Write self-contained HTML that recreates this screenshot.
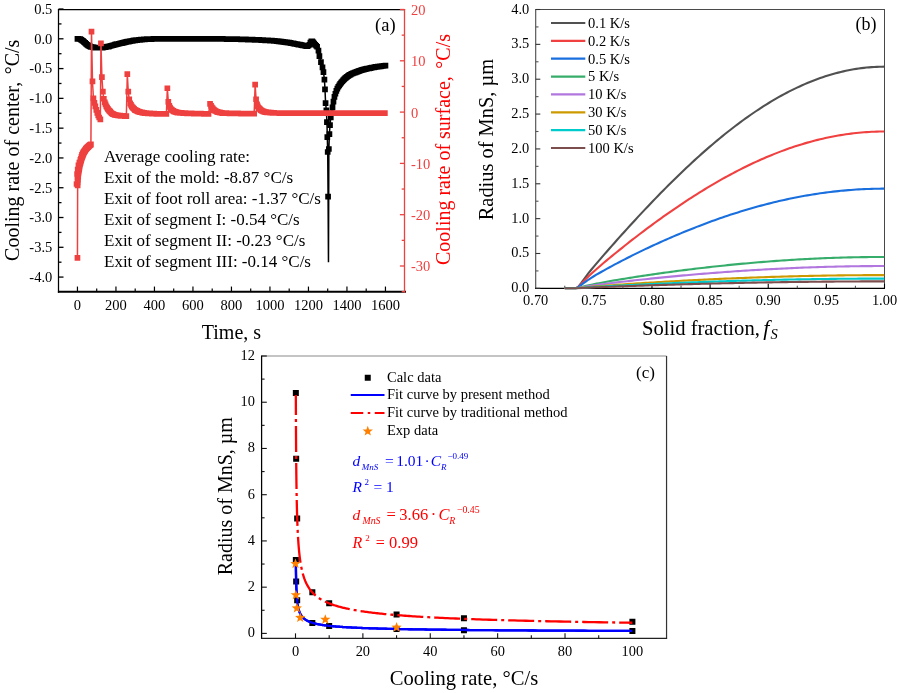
<!DOCTYPE html>
<html><head><meta charset="utf-8"><title>Figure</title>
<style>
html,body{margin:0;padding:0;background:#fff;}
svg{display:block;font-family:"Liberation Serif","Times New Roman",serif;}
</style></head><body>
<svg width="900" height="693" viewBox="0 0 900 693">
<rect width="900" height="693" fill="#fff"/>
<g id="panelA">
<path d="M77.45 38.8 L78.41 38.9 L79.38 39 L80.34 39.1 L81.3 39.79 L82.26 40.49 L83.23 41.18 L84.19 42.08 L85.15 42.97 L86.11 43.86 L87.08 44.76 L88.04 45.28 L89 45.8 L89.96 46.32 L90.92 46.84 L91.89 47.02 L92.85 47.2 L93.81 47.38 L94.78 47.56 L95.74 47.56 L96.7 47.56 L97.66 47.56 L98.62 47.56 L99.59 47.56 L100.55 47.56 L101.51 47.56 L102.47 47.56 L103.44 47.39 L104.4 47.22 L105.36 47.05 L106.33 46.88 L107.29 46.71 L108.25 46.54 L109.21 46.28 L110.18 46.02 L111.14 45.76 L112.1 45.5 L113.06 45.24 L114.03 44.98 L114.99 44.72 L115.95 44.46 L116.91 44.22 L117.88 43.98 L118.84 43.74 L119.8 43.51 L120.76 43.27 L121.72 43.03 L122.69 42.79 L123.65 42.55 L124.61 42.31 L125.58 42.08 L126.54 41.9 L127.5 41.72 L128.46 41.54 L129.43 41.36 L130.39 41.18 L131.35 41 L132.31 40.83 L133.28 40.65 L134.24 40.47 L135.2 40.29 L136.16 40.19 L137.12 40.09 L138.09 39.99 L139.05 39.88 L140.01 39.78 L140.97 39.68 L141.94 39.58 L142.9 39.48 L143.86 39.38 L144.82 39.28 L145.79 39.24 L146.75 39.21 L147.71 39.17 L148.68 39.14 L149.64 39.11 L150.6 39.07 L151.56 39.04 L152.53 39 L153.49 38.97 L154.45 38.94 L155.41 38.9 L156.38 38.87 L157.34 38.83 L158.3 38.8 L159.26 38.8 L160.23 38.8 L161.19 38.8 L162.15 38.8 L163.11 38.8 L164.07 38.8 L165.04 38.8 L166 38.8 L166.96 38.8 L167.93 38.8 L168.89 38.8 L169.85 38.8 L170.81 38.8 L171.78 38.8 L172.74 38.8 L173.7 38.8 L174.66 38.8 L175.62 38.8 L176.59 38.8 L177.55 38.8 L178.51 38.8 L179.48 38.8 L180.44 38.8 L181.4 38.8 L182.36 38.8 L183.32 38.8 L184.29 38.8 L185.25 38.8 L186.21 38.8 L187.18 38.8 L188.14 38.8 L189.1 38.8 L190.06 38.8 L191.03 38.8 L191.99 38.8 L192.95 38.8 L193.91 38.8 L194.88 38.8 L195.84 38.8 L196.8 38.8 L197.76 38.8 L198.73 38.8 L199.69 38.8 L200.65 38.8 L201.61 38.8 L202.57 38.8 L203.54 38.8 L204.5 38.8 L205.46 38.8 L206.43 38.8 L207.39 38.8 L208.35 38.8 L209.31 38.8 L210.27 38.8 L211.24 38.8 L212.2 38.8 L213.16 38.82 L214.12 38.83 L215.09 38.85 L216.05 38.86 L217.01 38.88 L217.98 38.9 L218.94 38.91 L219.9 38.93 L220.86 38.94 L221.82 38.96 L222.79 38.97 L223.75 38.99 L224.71 39.01 L225.68 39.02 L226.64 39.04 L227.6 39.05 L228.56 39.07 L229.52 39.09 L230.49 39.1 L231.45 39.12 L232.41 39.13 L233.38 39.15 L234.34 39.17 L235.3 39.18 L236.26 39.2 L237.23 39.21 L238.19 39.23 L239.15 39.24 L240.11 39.26 L241.07 39.28 L242.04 39.31 L243 39.35 L243.96 39.38 L244.93 39.42 L245.89 39.46 L246.85 39.49 L247.81 39.53 L248.77 39.56 L249.74 39.6 L250.7 39.63 L251.66 39.67 L252.62 39.71 L253.59 39.74 L254.55 39.78 L255.51 39.81 L256.48 39.85 L257.44 39.88 L258.4 39.92 L259.36 39.96 L260.32 39.99 L261.29 40.05 L262.25 40.11 L263.21 40.17 L264.18 40.23 L265.14 40.29 L266.1 40.34 L267.06 40.4 L268.02 40.46 L268.99 40.52 L269.95 40.58 L270.91 40.64 L271.88 40.7 L272.84 40.76 L273.8 40.81 L274.76 40.87 L275.73 40.98 L276.69 41.1 L277.65 41.22 L278.61 41.34 L279.57 41.46 L280.54 41.59 L281.5 41.71 L282.46 41.83 L283.43 41.95 L284.39 42.07 L285.35 42.19 L286.31 42.31 L287.27 42.43 L288.24 42.55 L289.2 42.67 L290.16 42.86 L291.12 43.04 L292.09 43.23 L293.05 43.42 L294.01 43.6 L294.98 43.79 L295.94 43.98 L296.9 44.16 L297.86 44.35 L298.82 44.53 L299.79 44.72 L300.75 44.91 L301.71 45.1 L302.68 45.29 L303.64 45.48 L304.6 45.67 L305.56 45.86 L306.52 46.06 L307.49 46.25 L308.45 45.5 L309.41 44.76 L310.38 42.63 L311.34 41.24 L312.3 41.44 L313.26 42.37 L314.23 43.57 L315.19 44.76 L316.15 45.75 L317.11 46.74 L318.46 50.71 L319.42 56.08 L320.96 62.03 L322.5 67.39 L323.46 72.16 L324.43 79.61 L325 89.43 L325.58 103.14 L326.35 110.28 L326.93 122.2 L327.31 137.09 L327.7 151.98 L328.08 196.66 L328.47 262.19 L328.86 149 L329.43 134.11 L330.01 125.18 L330.78 117.43 L331.55 113.26 L332.51 107.31 L333.47 101.6 L334.44 96.92 L335.4 93.74 L336.36 90.92 L337.32 88.69 L338.29 86.75 L339.25 85.3 L340.21 83.97 L341.18 82.7 L342.14 81.51 L343.1 80.4 L344.06 79.41 L345.02 78.41 L345.99 77.63 L346.95 76.85 L347.91 76.06 L348.88 75.33 L349.84 74.8 L350.8 74.28 L351.76 73.75 L352.72 73.36 L353.69 73.01 L354.65 72.65 L355.61 72.28 L356.57 71.92 L357.54 71.55 L358.5 71.18 L359.46 70.82 L360.43 70.5 L361.39 70.21 L362.35 69.93 L363.31 69.64 L364.27 69.35 L365.24 69.1 L366.2 68.9 L367.16 68.7 L368.12 68.5 L369.09 68.3 L370.05 68.1 L371.01 67.9 L371.97 67.7 L372.94 67.5 L373.9 67.3 L374.86 67.1 L375.82 66.96 L376.79 66.82 L377.75 66.69 L378.71 66.55 L379.68 66.42 L380.64 66.28 L381.6 66.15 L382.56 66.01 L383.52 65.88 L384.49 65.74 L385.45 65.61" fill="none" stroke="#000" stroke-width="1.5" />
<path d="M74.6 35.95h5.7v5.7h-5.7zM75.56 36.05h5.7v5.7h-5.7zM76.53 36.15h5.7v5.7h-5.7zM77.49 36.25h5.7v5.7h-5.7zM78.45 36.94h5.7v5.7h-5.7zM79.41 37.64h5.7v5.7h-5.7zM80.38 38.33h5.7v5.7h-5.7zM81.34 39.23h5.7v5.7h-5.7zM82.3 40.12h5.7v5.7h-5.7zM83.26 41.01h5.7v5.7h-5.7zM84.23 41.91h5.7v5.7h-5.7zM85.19 42.43h5.7v5.7h-5.7zM86.15 42.95h5.7v5.7h-5.7zM87.11 43.47h5.7v5.7h-5.7zM88.08 43.99h5.7v5.7h-5.7zM89.04 44.17h5.7v5.7h-5.7zM90 44.35h5.7v5.7h-5.7zM90.96 44.53h5.7v5.7h-5.7zM91.93 44.71h5.7v5.7h-5.7zM92.89 44.71h5.7v5.7h-5.7zM93.85 44.71h5.7v5.7h-5.7zM94.81 44.71h5.7v5.7h-5.7zM95.78 44.71h5.7v5.7h-5.7zM96.74 44.71h5.7v5.7h-5.7zM97.7 44.71h5.7v5.7h-5.7zM98.66 44.71h5.7v5.7h-5.7zM99.62 44.71h5.7v5.7h-5.7zM100.59 44.54h5.7v5.7h-5.7zM101.55 44.37h5.7v5.7h-5.7zM102.51 44.2h5.7v5.7h-5.7zM103.48 44.03h5.7v5.7h-5.7zM104.44 43.86h5.7v5.7h-5.7zM105.4 43.69h5.7v5.7h-5.7zM106.36 43.43h5.7v5.7h-5.7zM107.33 43.17h5.7v5.7h-5.7zM108.29 42.91h5.7v5.7h-5.7zM109.25 42.65h5.7v5.7h-5.7zM110.21 42.39h5.7v5.7h-5.7zM111.18 42.13h5.7v5.7h-5.7zM112.14 41.87h5.7v5.7h-5.7zM113.1 41.61h5.7v5.7h-5.7zM114.06 41.37h5.7v5.7h-5.7zM115.03 41.13h5.7v5.7h-5.7zM115.99 40.89h5.7v5.7h-5.7zM116.95 40.66h5.7v5.7h-5.7zM117.91 40.42h5.7v5.7h-5.7zM118.88 40.18h5.7v5.7h-5.7zM119.84 39.94h5.7v5.7h-5.7zM120.8 39.7h5.7v5.7h-5.7zM121.76 39.46h5.7v5.7h-5.7zM122.73 39.23h5.7v5.7h-5.7zM123.69 39.05h5.7v5.7h-5.7zM124.65 38.87h5.7v5.7h-5.7zM125.61 38.69h5.7v5.7h-5.7zM126.58 38.51h5.7v5.7h-5.7zM127.54 38.33h5.7v5.7h-5.7zM128.5 38.15h5.7v5.7h-5.7zM129.46 37.98h5.7v5.7h-5.7zM130.43 37.8h5.7v5.7h-5.7zM131.39 37.62h5.7v5.7h-5.7zM132.35 37.44h5.7v5.7h-5.7zM133.31 37.34h5.7v5.7h-5.7zM134.28 37.24h5.7v5.7h-5.7zM135.24 37.14h5.7v5.7h-5.7zM136.2 37.03h5.7v5.7h-5.7zM137.16 36.93h5.7v5.7h-5.7zM138.12 36.83h5.7v5.7h-5.7zM139.09 36.73h5.7v5.7h-5.7zM140.05 36.63h5.7v5.7h-5.7zM141.01 36.53h5.7v5.7h-5.7zM141.97 36.43h5.7v5.7h-5.7zM142.94 36.39h5.7v5.7h-5.7zM143.9 36.36h5.7v5.7h-5.7zM144.86 36.32h5.7v5.7h-5.7zM145.83 36.29h5.7v5.7h-5.7zM146.79 36.26h5.7v5.7h-5.7zM147.75 36.22h5.7v5.7h-5.7zM148.71 36.19h5.7v5.7h-5.7zM149.68 36.15h5.7v5.7h-5.7zM150.64 36.12h5.7v5.7h-5.7zM151.6 36.09h5.7v5.7h-5.7zM152.56 36.05h5.7v5.7h-5.7zM153.53 36.02h5.7v5.7h-5.7zM154.49 35.98h5.7v5.7h-5.7zM155.45 35.95h5.7v5.7h-5.7zM156.41 35.95h5.7v5.7h-5.7zM157.38 35.95h5.7v5.7h-5.7zM158.34 35.95h5.7v5.7h-5.7zM159.3 35.95h5.7v5.7h-5.7zM160.26 35.95h5.7v5.7h-5.7zM161.22 35.95h5.7v5.7h-5.7zM162.19 35.95h5.7v5.7h-5.7zM163.15 35.95h5.7v5.7h-5.7zM164.11 35.95h5.7v5.7h-5.7zM165.08 35.95h5.7v5.7h-5.7zM166.04 35.95h5.7v5.7h-5.7zM167 35.95h5.7v5.7h-5.7zM167.96 35.95h5.7v5.7h-5.7zM168.93 35.95h5.7v5.7h-5.7zM169.89 35.95h5.7v5.7h-5.7zM170.85 35.95h5.7v5.7h-5.7zM171.81 35.95h5.7v5.7h-5.7zM172.78 35.95h5.7v5.7h-5.7zM173.74 35.95h5.7v5.7h-5.7zM174.7 35.95h5.7v5.7h-5.7zM175.66 35.95h5.7v5.7h-5.7zM176.63 35.95h5.7v5.7h-5.7zM177.59 35.95h5.7v5.7h-5.7zM178.55 35.95h5.7v5.7h-5.7zM179.51 35.95h5.7v5.7h-5.7zM180.47 35.95h5.7v5.7h-5.7zM181.44 35.95h5.7v5.7h-5.7zM182.4 35.95h5.7v5.7h-5.7zM183.36 35.95h5.7v5.7h-5.7zM184.33 35.95h5.7v5.7h-5.7zM185.29 35.95h5.7v5.7h-5.7zM186.25 35.95h5.7v5.7h-5.7zM187.21 35.95h5.7v5.7h-5.7zM188.18 35.95h5.7v5.7h-5.7zM189.14 35.95h5.7v5.7h-5.7zM190.1 35.95h5.7v5.7h-5.7zM191.06 35.95h5.7v5.7h-5.7zM192.03 35.95h5.7v5.7h-5.7zM192.99 35.95h5.7v5.7h-5.7zM193.95 35.95h5.7v5.7h-5.7zM194.91 35.95h5.7v5.7h-5.7zM195.88 35.95h5.7v5.7h-5.7zM196.84 35.95h5.7v5.7h-5.7zM197.8 35.95h5.7v5.7h-5.7zM198.76 35.95h5.7v5.7h-5.7zM199.72 35.95h5.7v5.7h-5.7zM200.69 35.95h5.7v5.7h-5.7zM201.65 35.95h5.7v5.7h-5.7zM202.61 35.95h5.7v5.7h-5.7zM203.58 35.95h5.7v5.7h-5.7zM204.54 35.95h5.7v5.7h-5.7zM205.5 35.95h5.7v5.7h-5.7zM206.46 35.95h5.7v5.7h-5.7zM207.42 35.95h5.7v5.7h-5.7zM208.39 35.95h5.7v5.7h-5.7zM209.35 35.95h5.7v5.7h-5.7zM210.31 35.97h5.7v5.7h-5.7zM211.28 35.98h5.7v5.7h-5.7zM212.24 36h5.7v5.7h-5.7zM213.2 36.01h5.7v5.7h-5.7zM214.16 36.03h5.7v5.7h-5.7zM215.13 36.05h5.7v5.7h-5.7zM216.09 36.06h5.7v5.7h-5.7zM217.05 36.08h5.7v5.7h-5.7zM218.01 36.09h5.7v5.7h-5.7zM218.97 36.11h5.7v5.7h-5.7zM219.94 36.12h5.7v5.7h-5.7zM220.9 36.14h5.7v5.7h-5.7zM221.86 36.16h5.7v5.7h-5.7zM222.83 36.17h5.7v5.7h-5.7zM223.79 36.19h5.7v5.7h-5.7zM224.75 36.2h5.7v5.7h-5.7zM225.71 36.22h5.7v5.7h-5.7zM226.67 36.24h5.7v5.7h-5.7zM227.64 36.25h5.7v5.7h-5.7zM228.6 36.27h5.7v5.7h-5.7zM229.56 36.28h5.7v5.7h-5.7zM230.53 36.3h5.7v5.7h-5.7zM231.49 36.32h5.7v5.7h-5.7zM232.45 36.33h5.7v5.7h-5.7zM233.41 36.35h5.7v5.7h-5.7zM234.38 36.36h5.7v5.7h-5.7zM235.34 36.38h5.7v5.7h-5.7zM236.3 36.39h5.7v5.7h-5.7zM237.26 36.41h5.7v5.7h-5.7zM238.22 36.43h5.7v5.7h-5.7zM239.19 36.46h5.7v5.7h-5.7zM240.15 36.5h5.7v5.7h-5.7zM241.11 36.53h5.7v5.7h-5.7zM242.08 36.57h5.7v5.7h-5.7zM243.04 36.61h5.7v5.7h-5.7zM244 36.64h5.7v5.7h-5.7zM244.96 36.68h5.7v5.7h-5.7zM245.92 36.71h5.7v5.7h-5.7zM246.89 36.75h5.7v5.7h-5.7zM247.85 36.78h5.7v5.7h-5.7zM248.81 36.82h5.7v5.7h-5.7zM249.78 36.86h5.7v5.7h-5.7zM250.74 36.89h5.7v5.7h-5.7zM251.7 36.93h5.7v5.7h-5.7zM252.66 36.96h5.7v5.7h-5.7zM253.63 37h5.7v5.7h-5.7zM254.59 37.03h5.7v5.7h-5.7zM255.55 37.07h5.7v5.7h-5.7zM256.51 37.11h5.7v5.7h-5.7zM257.47 37.14h5.7v5.7h-5.7zM258.44 37.2h5.7v5.7h-5.7zM259.4 37.26h5.7v5.7h-5.7zM260.36 37.32h5.7v5.7h-5.7zM261.32 37.38h5.7v5.7h-5.7zM262.29 37.44h5.7v5.7h-5.7zM263.25 37.49h5.7v5.7h-5.7zM264.21 37.55h5.7v5.7h-5.7zM265.17 37.61h5.7v5.7h-5.7zM266.14 37.67h5.7v5.7h-5.7zM267.1 37.73h5.7v5.7h-5.7zM268.06 37.79h5.7v5.7h-5.7zM269.02 37.85h5.7v5.7h-5.7zM269.99 37.91h5.7v5.7h-5.7zM270.95 37.96h5.7v5.7h-5.7zM271.91 38.02h5.7v5.7h-5.7zM272.88 38.13h5.7v5.7h-5.7zM273.84 38.25h5.7v5.7h-5.7zM274.8 38.37h5.7v5.7h-5.7zM275.76 38.49h5.7v5.7h-5.7zM276.72 38.61h5.7v5.7h-5.7zM277.69 38.74h5.7v5.7h-5.7zM278.65 38.86h5.7v5.7h-5.7zM279.61 38.98h5.7v5.7h-5.7zM280.57 39.1h5.7v5.7h-5.7zM281.54 39.22h5.7v5.7h-5.7zM282.5 39.34h5.7v5.7h-5.7zM283.46 39.46h5.7v5.7h-5.7zM284.42 39.58h5.7v5.7h-5.7zM285.39 39.7h5.7v5.7h-5.7zM286.35 39.82h5.7v5.7h-5.7zM287.31 40.01h5.7v5.7h-5.7zM288.27 40.19h5.7v5.7h-5.7zM289.24 40.38h5.7v5.7h-5.7zM290.2 40.57h5.7v5.7h-5.7zM291.16 40.75h5.7v5.7h-5.7zM292.12 40.94h5.7v5.7h-5.7zM293.09 41.13h5.7v5.7h-5.7zM294.05 41.31h5.7v5.7h-5.7zM295.01 41.5h5.7v5.7h-5.7zM295.97 41.68h5.7v5.7h-5.7zM296.94 41.87h5.7v5.7h-5.7zM297.9 42.06h5.7v5.7h-5.7zM298.86 42.25h5.7v5.7h-5.7zM299.82 42.44h5.7v5.7h-5.7zM300.79 42.63h5.7v5.7h-5.7zM301.75 42.82h5.7v5.7h-5.7zM302.71 43.01h5.7v5.7h-5.7zM303.67 43.21h5.7v5.7h-5.7zM304.64 43.4h5.7v5.7h-5.7zM305.6 42.65h5.7v5.7h-5.7zM306.56 41.91h5.7v5.7h-5.7zM307.52 39.78h5.7v5.7h-5.7zM308.49 38.39h5.7v5.7h-5.7zM309.45 38.59h5.7v5.7h-5.7zM310.41 39.52h5.7v5.7h-5.7zM311.38 40.72h5.7v5.7h-5.7zM312.34 41.91h5.7v5.7h-5.7zM313.3 42.9h5.7v5.7h-5.7zM314.26 43.89h5.7v5.7h-5.7zM315.61 47.86h5.7v5.7h-5.7zM316.57 53.23h5.7v5.7h-5.7zM318.11 59.18h5.7v5.7h-5.7zM319.65 64.54h5.7v5.7h-5.7zM320.61 69.31h5.7v5.7h-5.7zM321.58 76.76h5.7v5.7h-5.7zM322.15 86.58h5.7v5.7h-5.7zM322.73 100.29h5.7v5.7h-5.7zM323.5 107.43h5.7v5.7h-5.7zM324.08 119.35h5.7v5.7h-5.7zM324.46 134.24h5.7v5.7h-5.7zM324.85 149.13h5.7v5.7h-5.7zM325.23 193.81h5.7v5.7h-5.7zM326 146.15h5.7v5.7h-5.7zM326.58 131.26h5.7v5.7h-5.7zM327.16 122.33h5.7v5.7h-5.7zM327.93 114.58h5.7v5.7h-5.7zM328.7 110.41h5.7v5.7h-5.7zM329.66 104.46h5.7v5.7h-5.7zM330.62 98.75h5.7v5.7h-5.7zM331.59 94.07h5.7v5.7h-5.7zM332.55 90.89h5.7v5.7h-5.7zM333.51 88.07h5.7v5.7h-5.7zM334.47 85.84h5.7v5.7h-5.7zM335.44 83.9h5.7v5.7h-5.7zM336.4 82.45h5.7v5.7h-5.7zM337.36 81.12h5.7v5.7h-5.7zM338.32 79.85h5.7v5.7h-5.7zM339.29 78.66h5.7v5.7h-5.7zM340.25 77.55h5.7v5.7h-5.7zM341.21 76.56h5.7v5.7h-5.7zM342.17 75.56h5.7v5.7h-5.7zM343.14 74.78h5.7v5.7h-5.7zM344.1 74h5.7v5.7h-5.7zM345.06 73.21h5.7v5.7h-5.7zM346.02 72.48h5.7v5.7h-5.7zM346.99 71.95h5.7v5.7h-5.7zM347.95 71.43h5.7v5.7h-5.7zM348.91 70.9h5.7v5.7h-5.7zM349.87 70.51h5.7v5.7h-5.7zM350.84 70.16h5.7v5.7h-5.7zM351.8 69.8h5.7v5.7h-5.7zM352.76 69.43h5.7v5.7h-5.7zM353.72 69.07h5.7v5.7h-5.7zM354.69 68.7h5.7v5.7h-5.7zM355.65 68.33h5.7v5.7h-5.7zM356.61 67.97h5.7v5.7h-5.7zM357.57 67.65h5.7v5.7h-5.7zM358.54 67.36h5.7v5.7h-5.7zM359.5 67.08h5.7v5.7h-5.7zM360.46 66.79h5.7v5.7h-5.7zM361.42 66.5h5.7v5.7h-5.7zM362.39 66.25h5.7v5.7h-5.7zM363.35 66.05h5.7v5.7h-5.7zM364.31 65.85h5.7v5.7h-5.7zM365.27 65.65h5.7v5.7h-5.7zM366.24 65.45h5.7v5.7h-5.7zM367.2 65.25h5.7v5.7h-5.7zM368.16 65.05h5.7v5.7h-5.7zM369.12 64.85h5.7v5.7h-5.7zM370.09 64.65h5.7v5.7h-5.7zM371.05 64.45h5.7v5.7h-5.7zM372.01 64.25h5.7v5.7h-5.7zM372.97 64.11h5.7v5.7h-5.7zM373.94 63.97h5.7v5.7h-5.7zM374.9 63.84h5.7v5.7h-5.7zM375.86 63.7h5.7v5.7h-5.7zM376.82 63.57h5.7v5.7h-5.7zM377.79 63.43h5.7v5.7h-5.7zM378.75 63.3h5.7v5.7h-5.7zM379.71 63.16h5.7v5.7h-5.7zM380.67 63.03h5.7v5.7h-5.7zM381.64 62.89h5.7v5.7h-5.7zM382.6 62.76h5.7v5.7h-5.7z" fill="#000"/>
<path d="M77.45 257.79 L77.64 185.46 L77.84 182.51 L78.03 179.56 L78.22 176.61 L78.41 173.66 L78.61 172.51 L78.8 171.35 L78.99 170.2 L79.18 169.04 L79.38 167.89 L79.57 166.73 L79.76 165.58 L79.95 164.43 L80.14 163.74 L80.34 163.06 L80.53 162.37 L80.72 161.69 L80.92 161.01 L81.11 160.32 L81.3 159.64 L81.49 158.95 L81.69 158.27 L81.88 157.76 L82.07 157.24 L82.26 156.73 L82.45 156.22 L82.65 155.7 L82.84 155.19 L83.03 154.68 L83.23 154.17 L83.42 153.65 L83.61 153.14 L83.8 152.63 L84 152.11 L84.19 151.82 L84.38 151.53 L84.57 151.23 L84.77 150.94 L84.96 150.65 L85.15 150.36 L85.34 150.06 L85.53 149.77 L85.73 149.48 L85.92 149.18 L86.11 148.89 L86.31 148.6 L86.5 148.3 L86.69 148.01 L86.88 147.84 L87.08 147.67 L87.27 147.5 L87.46 147.33 L87.65 147.16 L87.84 146.98 L88.04 146.81 L88.23 146.64 L88.42 146.47 L88.62 146.3 L88.81 146.13 L89 145.96 L89.19 145.79 L89.39 145.62 L89.58 145.44 L89.77 145.27 L89.96 145.1 L90.16 144.93 L90.35 144.8 L90.54 144.68 L90.73 144.55 L90.92 144.42 L91.5 31.56 L92.47 81.32 L93.43 98.25 L94.39 102.87 L95.35 106.46 L96.31 109.79 L97.28 112.87 L98.24 115.43 L99.2 117.49 L100.36 119.28 L100.94 43.36 L101.9 77.22 L102.86 91.58 L103.82 98.76 L104.78 102.35 L105.56 104.41 L106.33 106.46 L107.09 107.69 L107.87 108.92 L108.64 109.98 L109.41 110.88 L110.18 111.72 L110.94 112.48 L111.72 113.25 L112.48 113.81 L113.25 114.15 L114.03 114.49 L114.8 114.84 L115.56 115.01 L116.34 115.14 L117.11 115.26 L117.88 115.38 L118.65 115.51 L119.42 115.63 L120.19 115.72 L120.96 115.78 L121.72 115.84 L122.5 115.9 L123.27 115.95 L124.03 116.01 L124.81 116.07 L125.58 116.13 L126.34 116.19 L127.31 74.14 L128.27 91.58 L129.23 99.27 L130.19 103.38 L130.97 104.92 L131.74 106.46 L132.5 107.29 L133.28 108.12 L134.05 108.96 L134.81 109.79 L135.59 110.16 L136.36 110.54 L137.12 110.91 L137.9 111.28 L138.67 111.66 L139.44 111.93 L140.21 112.1 L140.97 112.27 L141.75 112.44 L142.51 112.61 L143.28 112.78 L144.06 112.95 L144.82 113.13 L145.59 113.18 L146.37 113.22 L147.13 113.27 L147.91 113.32 L148.68 113.37 L149.44 113.42 L150.22 113.47 L150.99 113.52 L151.75 113.57 L152.53 113.62 L153.3 113.67 L154.06 113.72 L154.84 113.75 L155.61 113.77 L156.38 113.78 L157.14 113.8 L157.92 113.81 L158.69 113.83 L159.45 113.85 L160.23 113.86 L161 113.88 L161.76 113.89 L162.53 113.91 L163.31 113.93 L164.07 113.94 L164.84 113.96 L165.62 113.97 L166.38 113.99 L167.35 88.25 L168.31 101.84 L169.27 105.94 L170.04 107.48 L170.81 109.02 L171.58 109.64 L172.35 110.25 L173.12 110.87 L173.89 111.39 L174.66 111.65 L175.43 111.91 L176.2 112.16 L176.97 112.42 L177.74 112.63 L178.51 112.69 L179.28 112.74 L180.05 112.8 L180.82 112.86 L181.59 112.92 L182.36 112.98 L183.13 113.04 L183.9 113.1 L184.67 113.16 L185.44 113.21 L186.21 113.25 L186.98 113.28 L187.75 113.31 L188.52 113.33 L189.29 113.36 L190.06 113.39 L190.83 113.42 L191.6 113.45 L192.37 113.48 L193.14 113.5 L193.91 113.53 L194.68 113.56 L195.45 113.59 L196.22 113.62 L196.99 113.64 L197.76 113.66 L198.53 113.68 L199.3 113.69 L200.07 113.71 L200.84 113.72 L201.61 113.74 L202.38 113.76 L203.15 113.77 L203.92 113.79 L204.69 113.8 L205.46 113.82 L206.23 113.84 L207 113.85 L207.77 113.87 L208.54 113.88 L210.08 103.89 L211.05 105.94 L211.81 107.31 L212.58 108.41 L213.36 109.23 L214.12 110.05 L214.89 110.53 L215.67 111.01 L216.44 111.48 L217.2 111.89 L217.98 112.06 L218.75 112.23 L219.51 112.4 L220.29 112.57 L221.06 112.74 L221.82 112.91 L222.6 113.08 L223.37 113.14 L224.13 113.16 L224.91 113.17 L225.68 113.19 L226.44 113.21 L227.21 113.23 L227.99 113.24 L228.75 113.26 L229.52 113.28 L230.3 113.29 L231.06 113.31 L231.83 113.33 L232.61 113.35 L233.38 113.36 L234.14 113.38 L234.92 113.4 L235.69 113.42 L236.45 113.43 L237.23 113.45 L238 113.47 L238.76 113.48 L239.54 113.5 L240.31 113.52 L241.07 113.54 L241.85 113.54 L242.62 113.55 L243.38 113.55 L244.16 113.56 L244.93 113.57 L245.69 113.57 L246.46 113.58 L247.24 113.58 L248 113.59 L248.77 113.6 L249.55 113.6 L250.31 113.61 L251.08 113.61 L251.86 113.62 L252.62 113.63 L253.39 113.63 L254.17 113.64 L255.13 84.65 L256.09 99.27 L257.05 104.41 L257.82 106.31 L258.59 107.93 L259.36 108.68 L260.13 109.43 L260.9 110.18 L261.67 110.71 L262.44 111.02 L263.21 111.33 L263.98 111.64 L264.75 111.95 L265.52 112.14 L266.29 112.21 L267.06 112.29 L267.83 112.36 L268.6 112.43 L269.37 112.51 L270.14 112.58 L270.91 112.66 L271.68 112.73 L272.45 112.81 L273.22 112.88 L273.99 112.95 L274.76 112.98 L275.53 112.99 L276.3 112.99 L277.07 113 L277.84 113.01 L278.61 113.02 L279.38 113.03 L280.15 113.03 L280.92 113.04 L281.69 113.05 L282.46 113.06 L283.23 113.06 L284 113.07 L284.77 113.08 L285.54 113.09 L286.31 113.1 L287.08 113.1 L287.85 113.11 L288.62 113.12 L289.39 113.13 L290.16 113.13 L290.93 113.13 L291.7 113.13 L292.47 113.13 L293.24 113.13 L294.01 113.13 L294.78 113.13 L295.55 113.13 L296.32 113.13 L297.09 113.13 L297.86 113.13 L298.63 113.13 L299.4 113.13 L300.17 113.13 L300.94 113.13 L301.71 113.13 L302.48 113.13 L303.25 113.13 L304.02 113.13 L304.79 113.13 L305.56 113.13 L306.33 113.13 L307.1 113.13 L307.87 113.13 L308.64 113.13 L309.41 113.13 L310.18 113.13 L310.95 113.13 L311.72 113.13 L312.49 113.13 L313.26 113.13 L314.03 113.13 L314.8 113.13 L315.57 113.13 L316.34 113.13 L317.11 113.13 L317.88 113.13 L318.65 113.13 L319.42 113.13 L320.19 113.13 L320.96 113.13 L321.73 113.13 L322.5 113.13 L323.27 113.13 L324.04 113.13 L324.81 113.13 L325.58 113.13 L326.35 113.13 L327.12 113.13 L327.89 113.13 L328.66 113.13 L329.43 113.13 L330.2 113.13 L330.97 113.13 L331.74 113.13 L332.51 113.13 L333.28 113.13 L334.05 113.13 L334.82 113.13 L335.59 113.13 L336.36 113.13 L337.13 113.13 L337.9 113.13 L338.67 113.13 L339.44 113.13 L340.21 113.13 L340.98 113.13 L341.75 113.13 L342.52 113.13 L343.29 113.13 L344.06 113.13 L344.83 113.13 L345.6 113.13 L346.37 113.13 L347.14 113.13 L347.91 113.13 L348.68 113.13 L349.45 113.13 L350.22 113.13 L350.99 113.13 L351.76 113.13 L352.53 113.13 L353.3 113.13 L354.07 113.13 L354.84 113.13 L355.61 113.13 L356.38 113.13 L357.15 113.13 L357.92 113.13 L358.69 113.13 L359.46 113.13 L360.23 113.13 L361 113.13 L361.77 113.13 L362.54 113.13 L363.31 113.13 L364.08 113.13 L364.85 113.13 L365.62 113.13 L366.39 113.13 L367.16 113.13 L367.93 113.13 L368.7 113.13 L369.47 113.13 L370.24 113.13 L371.01 113.13 L371.78 113.13 L372.55 113.13 L373.32 113.13 L374.09 113.13 L374.86 113.13 L375.63 113.13 L376.4 113.13 L377.17 113.13 L377.94 113.13 L378.71 113.13 L379.48 113.13 L380.25 113.13 L381.02 113.13 L381.79 113.13 L382.56 113.13 L383.33 113.13 L384.1 113.13 L384.87 113.13" fill="none" stroke="#EF4040" stroke-width="1.5" />
<path d="M74.6 254.94h5.7v5.7h-5.7zM74.79 182.61h5.7v5.7h-5.7zM74.99 179.66h5.7v5.7h-5.7zM75.18 176.71h5.7v5.7h-5.7zM75.37 173.76h5.7v5.7h-5.7zM75.56 170.81h5.7v5.7h-5.7zM75.76 169.66h5.7v5.7h-5.7zM75.95 168.5h5.7v5.7h-5.7zM76.14 167.35h5.7v5.7h-5.7zM76.33 166.19h5.7v5.7h-5.7zM76.53 165.04h5.7v5.7h-5.7zM76.72 163.88h5.7v5.7h-5.7zM76.91 162.73h5.7v5.7h-5.7zM77.1 161.58h5.7v5.7h-5.7zM77.3 160.89h5.7v5.7h-5.7zM77.49 160.21h5.7v5.7h-5.7zM77.68 159.52h5.7v5.7h-5.7zM77.87 158.84h5.7v5.7h-5.7zM78.07 158.16h5.7v5.7h-5.7zM78.26 157.47h5.7v5.7h-5.7zM78.45 156.79h5.7v5.7h-5.7zM78.64 156.1h5.7v5.7h-5.7zM78.84 155.42h5.7v5.7h-5.7zM79.03 154.91h5.7v5.7h-5.7zM79.22 154.39h5.7v5.7h-5.7zM79.41 153.88h5.7v5.7h-5.7zM79.61 153.37h5.7v5.7h-5.7zM79.8 152.85h5.7v5.7h-5.7zM79.99 152.34h5.7v5.7h-5.7zM80.18 151.83h5.7v5.7h-5.7zM80.38 151.32h5.7v5.7h-5.7zM80.57 150.8h5.7v5.7h-5.7zM80.76 150.29h5.7v5.7h-5.7zM80.95 149.78h5.7v5.7h-5.7zM81.15 149.26h5.7v5.7h-5.7zM81.34 148.97h5.7v5.7h-5.7zM81.53 148.68h5.7v5.7h-5.7zM81.72 148.38h5.7v5.7h-5.7zM81.92 148.09h5.7v5.7h-5.7zM82.11 147.8h5.7v5.7h-5.7zM82.3 147.51h5.7v5.7h-5.7zM82.49 147.21h5.7v5.7h-5.7zM82.69 146.92h5.7v5.7h-5.7zM82.88 146.63h5.7v5.7h-5.7zM83.07 146.33h5.7v5.7h-5.7zM83.26 146.04h5.7v5.7h-5.7zM83.46 145.75h5.7v5.7h-5.7zM83.65 145.45h5.7v5.7h-5.7zM83.84 145.16h5.7v5.7h-5.7zM84.03 144.99h5.7v5.7h-5.7zM84.23 144.82h5.7v5.7h-5.7zM84.42 144.65h5.7v5.7h-5.7zM84.61 144.48h5.7v5.7h-5.7zM84.8 144.31h5.7v5.7h-5.7zM85 144.13h5.7v5.7h-5.7zM85.19 143.96h5.7v5.7h-5.7zM85.38 143.79h5.7v5.7h-5.7zM85.57 143.62h5.7v5.7h-5.7zM85.77 143.45h5.7v5.7h-5.7zM85.96 143.28h5.7v5.7h-5.7zM86.15 143.11h5.7v5.7h-5.7zM86.34 142.94h5.7v5.7h-5.7zM86.54 142.77h5.7v5.7h-5.7zM86.73 142.59h5.7v5.7h-5.7zM86.92 142.42h5.7v5.7h-5.7zM87.11 142.25h5.7v5.7h-5.7zM87.31 142.08h5.7v5.7h-5.7zM87.5 141.95h5.7v5.7h-5.7zM87.69 141.83h5.7v5.7h-5.7zM87.88 141.7h5.7v5.7h-5.7zM88.08 141.57h5.7v5.7h-5.7zM88.65 28.71h5.7v5.7h-5.7zM89.62 78.47h5.7v5.7h-5.7zM90.58 95.4h5.7v5.7h-5.7zM91.54 100.02h5.7v5.7h-5.7zM92.5 103.61h5.7v5.7h-5.7zM93.47 106.94h5.7v5.7h-5.7zM94.43 110.02h5.7v5.7h-5.7zM95.39 112.58h5.7v5.7h-5.7zM96.35 114.64h5.7v5.7h-5.7zM97.51 116.43h5.7v5.7h-5.7zM98.09 40.51h5.7v5.7h-5.7zM99.05 74.37h5.7v5.7h-5.7zM100.01 88.73h5.7v5.7h-5.7zM100.97 95.91h5.7v5.7h-5.7zM101.94 99.5h5.7v5.7h-5.7zM102.71 101.56h5.7v5.7h-5.7zM103.48 103.61h5.7v5.7h-5.7zM104.25 104.84h5.7v5.7h-5.7zM105.02 106.07h5.7v5.7h-5.7zM105.79 107.13h5.7v5.7h-5.7zM106.56 108.03h5.7v5.7h-5.7zM107.33 108.87h5.7v5.7h-5.7zM108.09 109.63h5.7v5.7h-5.7zM108.87 110.4h5.7v5.7h-5.7zM109.64 110.96h5.7v5.7h-5.7zM110.41 111.3h5.7v5.7h-5.7zM111.18 111.64h5.7v5.7h-5.7zM111.95 111.99h5.7v5.7h-5.7zM112.72 112.16h5.7v5.7h-5.7zM113.49 112.29h5.7v5.7h-5.7zM114.26 112.41h5.7v5.7h-5.7zM115.03 112.53h5.7v5.7h-5.7zM115.8 112.66h5.7v5.7h-5.7zM116.57 112.78h5.7v5.7h-5.7zM117.34 112.87h5.7v5.7h-5.7zM118.11 112.93h5.7v5.7h-5.7zM118.88 112.99h5.7v5.7h-5.7zM119.65 113.05h5.7v5.7h-5.7zM120.42 113.1h5.7v5.7h-5.7zM121.19 113.16h5.7v5.7h-5.7zM121.96 113.22h5.7v5.7h-5.7zM122.73 113.28h5.7v5.7h-5.7zM123.5 113.34h5.7v5.7h-5.7zM124.46 71.29h5.7v5.7h-5.7zM125.42 88.73h5.7v5.7h-5.7zM126.38 96.42h5.7v5.7h-5.7zM127.34 100.53h5.7v5.7h-5.7zM128.12 102.07h5.7v5.7h-5.7zM128.89 103.61h5.7v5.7h-5.7zM129.66 104.44h5.7v5.7h-5.7zM130.43 105.27h5.7v5.7h-5.7zM131.2 106.11h5.7v5.7h-5.7zM131.97 106.94h5.7v5.7h-5.7zM132.74 107.31h5.7v5.7h-5.7zM133.51 107.69h5.7v5.7h-5.7zM134.28 108.06h5.7v5.7h-5.7zM135.05 108.43h5.7v5.7h-5.7zM135.82 108.81h5.7v5.7h-5.7zM136.59 109.08h5.7v5.7h-5.7zM137.36 109.25h5.7v5.7h-5.7zM138.12 109.42h5.7v5.7h-5.7zM138.9 109.59h5.7v5.7h-5.7zM139.66 109.76h5.7v5.7h-5.7zM140.44 109.93h5.7v5.7h-5.7zM141.21 110.11h5.7v5.7h-5.7zM141.97 110.28h5.7v5.7h-5.7zM142.75 110.33h5.7v5.7h-5.7zM143.52 110.37h5.7v5.7h-5.7zM144.28 110.42h5.7v5.7h-5.7zM145.06 110.47h5.7v5.7h-5.7zM145.83 110.52h5.7v5.7h-5.7zM146.59 110.57h5.7v5.7h-5.7zM147.37 110.62h5.7v5.7h-5.7zM148.14 110.67h5.7v5.7h-5.7zM148.91 110.72h5.7v5.7h-5.7zM149.68 110.77h5.7v5.7h-5.7zM150.45 110.82h5.7v5.7h-5.7zM151.22 110.87h5.7v5.7h-5.7zM151.99 110.9h5.7v5.7h-5.7zM152.76 110.92h5.7v5.7h-5.7zM153.53 110.93h5.7v5.7h-5.7zM154.29 110.95h5.7v5.7h-5.7zM155.07 110.96h5.7v5.7h-5.7zM155.84 110.98h5.7v5.7h-5.7zM156.6 111h5.7v5.7h-5.7zM157.38 111.01h5.7v5.7h-5.7zM158.15 111.03h5.7v5.7h-5.7zM158.91 111.04h5.7v5.7h-5.7zM159.69 111.06h5.7v5.7h-5.7zM160.46 111.08h5.7v5.7h-5.7zM161.22 111.09h5.7v5.7h-5.7zM162 111.11h5.7v5.7h-5.7zM162.77 111.12h5.7v5.7h-5.7zM163.53 111.14h5.7v5.7h-5.7zM164.5 85.4h5.7v5.7h-5.7zM165.46 98.99h5.7v5.7h-5.7zM166.42 103.09h5.7v5.7h-5.7zM167.19 104.63h5.7v5.7h-5.7zM167.96 106.17h5.7v5.7h-5.7zM168.73 106.79h5.7v5.7h-5.7zM169.5 107.4h5.7v5.7h-5.7zM170.27 108.02h5.7v5.7h-5.7zM171.04 108.54h5.7v5.7h-5.7zM171.81 108.8h5.7v5.7h-5.7zM172.58 109.06h5.7v5.7h-5.7zM173.35 109.31h5.7v5.7h-5.7zM174.12 109.57h5.7v5.7h-5.7zM174.89 109.78h5.7v5.7h-5.7zM175.66 109.84h5.7v5.7h-5.7zM176.43 109.89h5.7v5.7h-5.7zM177.2 109.95h5.7v5.7h-5.7zM177.97 110.01h5.7v5.7h-5.7zM178.74 110.07h5.7v5.7h-5.7zM179.51 110.13h5.7v5.7h-5.7zM180.28 110.19h5.7v5.7h-5.7zM181.05 110.25h5.7v5.7h-5.7zM181.82 110.31h5.7v5.7h-5.7zM182.59 110.36h5.7v5.7h-5.7zM183.36 110.4h5.7v5.7h-5.7zM184.13 110.43h5.7v5.7h-5.7zM184.9 110.46h5.7v5.7h-5.7zM185.67 110.48h5.7v5.7h-5.7zM186.44 110.51h5.7v5.7h-5.7zM187.21 110.54h5.7v5.7h-5.7zM187.98 110.57h5.7v5.7h-5.7zM188.75 110.6h5.7v5.7h-5.7zM189.52 110.63h5.7v5.7h-5.7zM190.29 110.65h5.7v5.7h-5.7zM191.06 110.68h5.7v5.7h-5.7zM191.83 110.71h5.7v5.7h-5.7zM192.6 110.74h5.7v5.7h-5.7zM193.37 110.77h5.7v5.7h-5.7zM194.14 110.79h5.7v5.7h-5.7zM194.91 110.81h5.7v5.7h-5.7zM195.68 110.83h5.7v5.7h-5.7zM196.45 110.84h5.7v5.7h-5.7zM197.22 110.86h5.7v5.7h-5.7zM197.99 110.87h5.7v5.7h-5.7zM198.76 110.89h5.7v5.7h-5.7zM199.53 110.91h5.7v5.7h-5.7zM200.3 110.92h5.7v5.7h-5.7zM201.07 110.94h5.7v5.7h-5.7zM201.84 110.95h5.7v5.7h-5.7zM202.61 110.97h5.7v5.7h-5.7zM203.38 110.99h5.7v5.7h-5.7zM204.15 111h5.7v5.7h-5.7zM204.92 111.02h5.7v5.7h-5.7zM205.69 111.03h5.7v5.7h-5.7zM207.23 101.04h5.7v5.7h-5.7zM208.2 103.09h5.7v5.7h-5.7zM208.97 104.46h5.7v5.7h-5.7zM209.73 105.56h5.7v5.7h-5.7zM210.51 106.38h5.7v5.7h-5.7zM211.28 107.2h5.7v5.7h-5.7zM212.04 107.68h5.7v5.7h-5.7zM212.82 108.16h5.7v5.7h-5.7zM213.59 108.63h5.7v5.7h-5.7zM214.35 109.04h5.7v5.7h-5.7zM215.13 109.21h5.7v5.7h-5.7zM215.9 109.38h5.7v5.7h-5.7zM216.66 109.55h5.7v5.7h-5.7zM217.44 109.72h5.7v5.7h-5.7zM218.21 109.89h5.7v5.7h-5.7zM218.97 110.06h5.7v5.7h-5.7zM219.75 110.23h5.7v5.7h-5.7zM220.52 110.29h5.7v5.7h-5.7zM221.28 110.31h5.7v5.7h-5.7zM222.06 110.32h5.7v5.7h-5.7zM222.83 110.34h5.7v5.7h-5.7zM223.59 110.36h5.7v5.7h-5.7zM224.36 110.38h5.7v5.7h-5.7zM225.14 110.39h5.7v5.7h-5.7zM225.91 110.41h5.7v5.7h-5.7zM226.67 110.43h5.7v5.7h-5.7zM227.45 110.44h5.7v5.7h-5.7zM228.22 110.46h5.7v5.7h-5.7zM228.98 110.48h5.7v5.7h-5.7zM229.76 110.5h5.7v5.7h-5.7zM230.53 110.51h5.7v5.7h-5.7zM231.29 110.53h5.7v5.7h-5.7zM232.07 110.55h5.7v5.7h-5.7zM232.84 110.57h5.7v5.7h-5.7zM233.6 110.58h5.7v5.7h-5.7zM234.38 110.6h5.7v5.7h-5.7zM235.15 110.62h5.7v5.7h-5.7zM235.91 110.63h5.7v5.7h-5.7zM236.69 110.65h5.7v5.7h-5.7zM237.46 110.67h5.7v5.7h-5.7zM238.22 110.69h5.7v5.7h-5.7zM239 110.69h5.7v5.7h-5.7zM239.77 110.7h5.7v5.7h-5.7zM240.53 110.7h5.7v5.7h-5.7zM241.31 110.71h5.7v5.7h-5.7zM242.08 110.72h5.7v5.7h-5.7zM242.84 110.72h5.7v5.7h-5.7zM243.61 110.73h5.7v5.7h-5.7zM244.39 110.73h5.7v5.7h-5.7zM245.16 110.74h5.7v5.7h-5.7zM245.92 110.75h5.7v5.7h-5.7zM246.7 110.75h5.7v5.7h-5.7zM247.47 110.76h5.7v5.7h-5.7zM248.23 110.76h5.7v5.7h-5.7zM249.01 110.77h5.7v5.7h-5.7zM249.78 110.78h5.7v5.7h-5.7zM250.54 110.78h5.7v5.7h-5.7zM251.32 110.79h5.7v5.7h-5.7zM252.28 81.8h5.7v5.7h-5.7zM253.24 96.42h5.7v5.7h-5.7zM254.2 101.56h5.7v5.7h-5.7zM254.97 103.46h5.7v5.7h-5.7zM255.74 105.08h5.7v5.7h-5.7zM256.51 105.83h5.7v5.7h-5.7zM257.28 106.58h5.7v5.7h-5.7zM258.05 107.33h5.7v5.7h-5.7zM258.82 107.86h5.7v5.7h-5.7zM259.59 108.17h5.7v5.7h-5.7zM260.36 108.48h5.7v5.7h-5.7zM261.13 108.79h5.7v5.7h-5.7zM261.9 109.1h5.7v5.7h-5.7zM262.67 109.29h5.7v5.7h-5.7zM263.44 109.36h5.7v5.7h-5.7zM264.21 109.44h5.7v5.7h-5.7zM264.98 109.51h5.7v5.7h-5.7zM265.75 109.58h5.7v5.7h-5.7zM266.52 109.66h5.7v5.7h-5.7zM267.29 109.73h5.7v5.7h-5.7zM268.06 109.81h5.7v5.7h-5.7zM268.83 109.88h5.7v5.7h-5.7zM269.6 109.96h5.7v5.7h-5.7zM270.37 110.03h5.7v5.7h-5.7zM271.14 110.1h5.7v5.7h-5.7zM271.91 110.13h5.7v5.7h-5.7zM272.68 110.14h5.7v5.7h-5.7zM273.45 110.14h5.7v5.7h-5.7zM274.22 110.15h5.7v5.7h-5.7zM274.99 110.16h5.7v5.7h-5.7zM275.76 110.17h5.7v5.7h-5.7zM276.53 110.18h5.7v5.7h-5.7zM277.3 110.18h5.7v5.7h-5.7zM278.07 110.19h5.7v5.7h-5.7zM278.84 110.2h5.7v5.7h-5.7zM279.61 110.21h5.7v5.7h-5.7zM280.38 110.21h5.7v5.7h-5.7zM281.15 110.22h5.7v5.7h-5.7zM281.92 110.23h5.7v5.7h-5.7zM282.69 110.24h5.7v5.7h-5.7zM283.46 110.25h5.7v5.7h-5.7zM284.23 110.25h5.7v5.7h-5.7zM285 110.26h5.7v5.7h-5.7zM285.77 110.27h5.7v5.7h-5.7zM286.54 110.28h5.7v5.7h-5.7zM287.31 110.28h5.7v5.7h-5.7zM288.08 110.28h5.7v5.7h-5.7zM288.85 110.28h5.7v5.7h-5.7zM289.62 110.28h5.7v5.7h-5.7zM290.39 110.28h5.7v5.7h-5.7zM291.16 110.28h5.7v5.7h-5.7zM291.93 110.28h5.7v5.7h-5.7zM292.7 110.28h5.7v5.7h-5.7zM293.47 110.28h5.7v5.7h-5.7zM294.24 110.28h5.7v5.7h-5.7zM295.01 110.28h5.7v5.7h-5.7zM295.78 110.28h5.7v5.7h-5.7zM296.55 110.28h5.7v5.7h-5.7zM297.32 110.28h5.7v5.7h-5.7zM298.09 110.28h5.7v5.7h-5.7zM298.86 110.28h5.7v5.7h-5.7zM299.63 110.28h5.7v5.7h-5.7zM300.4 110.28h5.7v5.7h-5.7zM301.17 110.28h5.7v5.7h-5.7zM301.94 110.28h5.7v5.7h-5.7zM302.71 110.28h5.7v5.7h-5.7zM303.48 110.28h5.7v5.7h-5.7zM304.25 110.28h5.7v5.7h-5.7zM305.02 110.28h5.7v5.7h-5.7zM305.79 110.28h5.7v5.7h-5.7zM306.56 110.28h5.7v5.7h-5.7zM307.33 110.28h5.7v5.7h-5.7zM308.1 110.28h5.7v5.7h-5.7zM308.87 110.28h5.7v5.7h-5.7zM309.64 110.28h5.7v5.7h-5.7zM310.41 110.28h5.7v5.7h-5.7zM311.18 110.28h5.7v5.7h-5.7zM311.95 110.28h5.7v5.7h-5.7zM312.72 110.28h5.7v5.7h-5.7zM313.49 110.28h5.7v5.7h-5.7zM314.26 110.28h5.7v5.7h-5.7zM315.03 110.28h5.7v5.7h-5.7zM315.8 110.28h5.7v5.7h-5.7zM316.57 110.28h5.7v5.7h-5.7zM317.34 110.28h5.7v5.7h-5.7zM318.11 110.28h5.7v5.7h-5.7zM318.88 110.28h5.7v5.7h-5.7zM319.65 110.28h5.7v5.7h-5.7zM320.42 110.28h5.7v5.7h-5.7zM321.19 110.28h5.7v5.7h-5.7zM321.96 110.28h5.7v5.7h-5.7zM322.73 110.28h5.7v5.7h-5.7zM323.5 110.28h5.7v5.7h-5.7zM324.27 110.28h5.7v5.7h-5.7zM325.04 110.28h5.7v5.7h-5.7zM325.81 110.28h5.7v5.7h-5.7zM326.58 110.28h5.7v5.7h-5.7zM327.35 110.28h5.7v5.7h-5.7zM328.12 110.28h5.7v5.7h-5.7zM328.89 110.28h5.7v5.7h-5.7zM329.66 110.28h5.7v5.7h-5.7zM330.43 110.28h5.7v5.7h-5.7zM331.2 110.28h5.7v5.7h-5.7zM331.97 110.28h5.7v5.7h-5.7zM332.74 110.28h5.7v5.7h-5.7zM333.51 110.28h5.7v5.7h-5.7zM334.28 110.28h5.7v5.7h-5.7zM335.05 110.28h5.7v5.7h-5.7zM335.82 110.28h5.7v5.7h-5.7zM336.59 110.28h5.7v5.7h-5.7zM337.36 110.28h5.7v5.7h-5.7zM338.13 110.28h5.7v5.7h-5.7zM338.9 110.28h5.7v5.7h-5.7zM339.67 110.28h5.7v5.7h-5.7zM340.44 110.28h5.7v5.7h-5.7zM341.21 110.28h5.7v5.7h-5.7zM341.98 110.28h5.7v5.7h-5.7zM342.75 110.28h5.7v5.7h-5.7zM343.52 110.28h5.7v5.7h-5.7zM344.29 110.28h5.7v5.7h-5.7zM345.06 110.28h5.7v5.7h-5.7zM345.83 110.28h5.7v5.7h-5.7zM346.6 110.28h5.7v5.7h-5.7zM347.37 110.28h5.7v5.7h-5.7zM348.14 110.28h5.7v5.7h-5.7zM348.91 110.28h5.7v5.7h-5.7zM349.68 110.28h5.7v5.7h-5.7zM350.45 110.28h5.7v5.7h-5.7zM351.22 110.28h5.7v5.7h-5.7zM351.99 110.28h5.7v5.7h-5.7zM352.76 110.28h5.7v5.7h-5.7zM353.53 110.28h5.7v5.7h-5.7zM354.3 110.28h5.7v5.7h-5.7zM355.07 110.28h5.7v5.7h-5.7zM355.84 110.28h5.7v5.7h-5.7zM356.61 110.28h5.7v5.7h-5.7zM357.38 110.28h5.7v5.7h-5.7zM358.15 110.28h5.7v5.7h-5.7zM358.92 110.28h5.7v5.7h-5.7zM359.69 110.28h5.7v5.7h-5.7zM360.46 110.28h5.7v5.7h-5.7zM361.23 110.28h5.7v5.7h-5.7zM362 110.28h5.7v5.7h-5.7zM362.77 110.28h5.7v5.7h-5.7zM363.54 110.28h5.7v5.7h-5.7zM364.31 110.28h5.7v5.7h-5.7zM365.08 110.28h5.7v5.7h-5.7zM365.85 110.28h5.7v5.7h-5.7zM366.62 110.28h5.7v5.7h-5.7zM367.39 110.28h5.7v5.7h-5.7zM368.16 110.28h5.7v5.7h-5.7zM368.93 110.28h5.7v5.7h-5.7zM369.7 110.28h5.7v5.7h-5.7zM370.47 110.28h5.7v5.7h-5.7zM371.24 110.28h5.7v5.7h-5.7zM372.01 110.28h5.7v5.7h-5.7zM372.78 110.28h5.7v5.7h-5.7zM373.55 110.28h5.7v5.7h-5.7zM374.32 110.28h5.7v5.7h-5.7zM375.09 110.28h5.7v5.7h-5.7zM375.86 110.28h5.7v5.7h-5.7zM376.63 110.28h5.7v5.7h-5.7zM377.4 110.28h5.7v5.7h-5.7zM378.17 110.28h5.7v5.7h-5.7zM378.94 110.28h5.7v5.7h-5.7zM379.71 110.28h5.7v5.7h-5.7zM380.48 110.28h5.7v5.7h-5.7zM381.25 110.28h5.7v5.7h-5.7zM382.02 110.28h5.7v5.7h-5.7z" fill="#EF4040"/>
<path d="M73.73 181.36h5.3v5.3h-5.3zM74.57 175.46h5.3v5.3h-5.3zM74.24 171.36h5.3v5.3h-5.3zM75.56 169.05h5.3v5.3h-5.3zM74.85 166.74h5.3v5.3h-5.3zM76.41 164.43h5.3v5.3h-5.3zM75.61 162.59h5.3v5.3h-5.3zM77.11 161.22h5.3v5.3h-5.3zM76.53 159.86h5.3v5.3h-5.3zM77.67 158.49h5.3v5.3h-5.3zM77.56 157.12h5.3v5.3h-5.3zM78.14 156.09h5.3v5.3h-5.3zM78.63 155.07h5.3v5.3h-5.3zM78.62 154.04h5.3v5.3h-5.3zM79.68 153.02h5.3v5.3h-5.3zM79.16 151.99h5.3v5.3h-5.3zM80.61 150.96h5.3v5.3h-5.3zM79.83 150.38h5.3v5.3h-5.3zM81.4 149.79h5.3v5.3h-5.3zM80.66 149.21h5.3v5.3h-5.3zM82.04 148.62h5.3v5.3h-5.3zM81.63 148.03h5.3v5.3h-5.3zM82.55 147.45h5.3v5.3h-5.3zM82.69 146.86h5.3v5.3h-5.3zM83.02 146.52h5.3v5.3h-5.3zM83.76 146.18h5.3v5.3h-5.3zM83.51 145.83h5.3v5.3h-5.3zM84.77 145.49h5.3v5.3h-5.3zM84.1 145.15h5.3v5.3h-5.3zM85.65 144.81h5.3v5.3h-5.3z" fill="#EF4040"/>
<line x1="57.9" y1="9.5" x2="405.1" y2="9.5" stroke="#000" stroke-width="1.25" />
<line x1="58.5" y1="9.5" x2="58.5" y2="292.75" stroke="#000" stroke-width="1.25" />
<line x1="57.9" y1="291.75" x2="406" y2="291.75" stroke="#000" stroke-width="2" />
<line x1="404.5" y1="8.9" x2="404.5" y2="292.75" stroke="#EF4040" stroke-width="1.3" />
<line x1="77.45" y1="291.75" x2="77.45" y2="286.55" stroke="#000" stroke-width="1.2" />
<text x="77.45" y="309.8" font-size="14.5" text-anchor="middle" fill="#000" >0</text>
<line x1="96.7" y1="291.75" x2="96.7" y2="288.55" stroke="#000" stroke-width="1.2" />
<line x1="115.95" y1="291.75" x2="115.95" y2="286.55" stroke="#000" stroke-width="1.2" />
<text x="115.95" y="309.8" font-size="14.5" text-anchor="middle" fill="#000" >200</text>
<line x1="135.2" y1="291.75" x2="135.2" y2="288.55" stroke="#000" stroke-width="1.2" />
<line x1="154.45" y1="291.75" x2="154.45" y2="286.55" stroke="#000" stroke-width="1.2" />
<text x="154.45" y="309.8" font-size="14.5" text-anchor="middle" fill="#000" >400</text>
<line x1="173.7" y1="291.75" x2="173.7" y2="288.55" stroke="#000" stroke-width="1.2" />
<line x1="192.95" y1="291.75" x2="192.95" y2="286.55" stroke="#000" stroke-width="1.2" />
<text x="192.95" y="309.8" font-size="14.5" text-anchor="middle" fill="#000" >600</text>
<line x1="212.2" y1="291.75" x2="212.2" y2="288.55" stroke="#000" stroke-width="1.2" />
<line x1="231.45" y1="291.75" x2="231.45" y2="286.55" stroke="#000" stroke-width="1.2" />
<text x="231.45" y="309.8" font-size="14.5" text-anchor="middle" fill="#000" >800</text>
<line x1="250.7" y1="291.75" x2="250.7" y2="288.55" stroke="#000" stroke-width="1.2" />
<line x1="269.95" y1="291.75" x2="269.95" y2="286.55" stroke="#000" stroke-width="1.2" />
<text x="269.95" y="309.8" font-size="14.5" text-anchor="middle" fill="#000" >1000</text>
<line x1="289.2" y1="291.75" x2="289.2" y2="288.55" stroke="#000" stroke-width="1.2" />
<line x1="308.45" y1="291.75" x2="308.45" y2="286.55" stroke="#000" stroke-width="1.2" />
<text x="308.45" y="309.8" font-size="14.5" text-anchor="middle" fill="#000" >1200</text>
<line x1="327.7" y1="291.75" x2="327.7" y2="288.55" stroke="#000" stroke-width="1.2" />
<line x1="346.95" y1="291.75" x2="346.95" y2="286.55" stroke="#000" stroke-width="1.2" />
<text x="346.95" y="309.8" font-size="14.5" text-anchor="middle" fill="#000" >1400</text>
<line x1="366.2" y1="291.75" x2="366.2" y2="288.55" stroke="#000" stroke-width="1.2" />
<line x1="385.45" y1="291.75" x2="385.45" y2="286.55" stroke="#000" stroke-width="1.2" />
<text x="385.45" y="309.8" font-size="14.5" text-anchor="middle" fill="#000" >1600</text>
<line x1="58.5" y1="9.01" x2="63.5" y2="9.01" stroke="#000" stroke-width="1.3" />
<text x="52.3" y="13.91" font-size="14.5" text-anchor="end" fill="#000" >0.5</text>
<line x1="58.5" y1="23.91" x2="61.5" y2="23.91" stroke="#000" stroke-width="1.3" />
<line x1="58.5" y1="38.8" x2="63.5" y2="38.8" stroke="#000" stroke-width="1.3" />
<text x="52.3" y="43.7" font-size="14.5" text-anchor="end" fill="#000" >0.0</text>
<line x1="58.5" y1="53.69" x2="61.5" y2="53.69" stroke="#000" stroke-width="1.3" />
<line x1="58.5" y1="68.58" x2="63.5" y2="68.58" stroke="#000" stroke-width="1.3" />
<text x="52.3" y="73.48" font-size="14.5" text-anchor="end" fill="#000" >-0.5</text>
<line x1="58.5" y1="83.48" x2="61.5" y2="83.48" stroke="#000" stroke-width="1.3" />
<line x1="58.5" y1="98.37" x2="63.5" y2="98.37" stroke="#000" stroke-width="1.3" />
<text x="52.3" y="103.27" font-size="14.5" text-anchor="end" fill="#000" >-1.0</text>
<line x1="58.5" y1="113.26" x2="61.5" y2="113.26" stroke="#000" stroke-width="1.3" />
<line x1="58.5" y1="128.16" x2="63.5" y2="128.16" stroke="#000" stroke-width="1.3" />
<text x="52.3" y="133.06" font-size="14.5" text-anchor="end" fill="#000" >-1.5</text>
<line x1="58.5" y1="143.05" x2="61.5" y2="143.05" stroke="#000" stroke-width="1.3" />
<line x1="58.5" y1="157.94" x2="63.5" y2="157.94" stroke="#000" stroke-width="1.3" />
<text x="52.3" y="162.84" font-size="14.5" text-anchor="end" fill="#000" >-2.0</text>
<line x1="58.5" y1="172.83" x2="61.5" y2="172.83" stroke="#000" stroke-width="1.3" />
<line x1="58.5" y1="187.73" x2="63.5" y2="187.73" stroke="#000" stroke-width="1.3" />
<text x="52.3" y="192.63" font-size="14.5" text-anchor="end" fill="#000" >-2.5</text>
<line x1="58.5" y1="202.62" x2="61.5" y2="202.62" stroke="#000" stroke-width="1.3" />
<line x1="58.5" y1="217.51" x2="63.5" y2="217.51" stroke="#000" stroke-width="1.3" />
<text x="52.3" y="222.41" font-size="14.5" text-anchor="end" fill="#000" >-3.0</text>
<line x1="58.5" y1="232.4" x2="61.5" y2="232.4" stroke="#000" stroke-width="1.3" />
<line x1="58.5" y1="247.3" x2="63.5" y2="247.3" stroke="#000" stroke-width="1.3" />
<text x="52.3" y="252.2" font-size="14.5" text-anchor="end" fill="#000" >-3.5</text>
<line x1="58.5" y1="262.19" x2="61.5" y2="262.19" stroke="#000" stroke-width="1.3" />
<line x1="58.5" y1="277.08" x2="63.5" y2="277.08" stroke="#000" stroke-width="1.3" />
<text x="52.3" y="281.98" font-size="14.5" text-anchor="end" fill="#000" >-4.0</text>
<line x1="404.5" y1="9.5" x2="399.9" y2="9.5" stroke="#EF4040" stroke-width="1.3" />
<text x="411" y="14.9" font-size="14.5" text-anchor="start" fill="#EF4040" >20</text>
<line x1="404.5" y1="35.15" x2="401.7" y2="35.15" stroke="#EF4040" stroke-width="1.3" />
<line x1="404.5" y1="60.8" x2="399.9" y2="60.8" stroke="#EF4040" stroke-width="1.3" />
<text x="411" y="66.2" font-size="14.5" text-anchor="start" fill="#EF4040" >10</text>
<line x1="404.5" y1="86.45" x2="401.7" y2="86.45" stroke="#EF4040" stroke-width="1.3" />
<line x1="404.5" y1="112.1" x2="399.9" y2="112.1" stroke="#EF4040" stroke-width="1.3" />
<text x="411" y="117.5" font-size="14.5" text-anchor="start" fill="#EF4040" >0</text>
<line x1="404.5" y1="137.75" x2="401.7" y2="137.75" stroke="#EF4040" stroke-width="1.3" />
<line x1="404.5" y1="163.4" x2="399.9" y2="163.4" stroke="#EF4040" stroke-width="1.3" />
<text x="411" y="168.8" font-size="14.5" text-anchor="start" fill="#EF4040" >-10</text>
<line x1="404.5" y1="189.05" x2="401.7" y2="189.05" stroke="#EF4040" stroke-width="1.3" />
<line x1="404.5" y1="214.7" x2="399.9" y2="214.7" stroke="#EF4040" stroke-width="1.3" />
<text x="411" y="220.1" font-size="14.5" text-anchor="start" fill="#EF4040" >-20</text>
<line x1="404.5" y1="240.35" x2="401.7" y2="240.35" stroke="#EF4040" stroke-width="1.3" />
<line x1="404.5" y1="266" x2="399.9" y2="266" stroke="#EF4040" stroke-width="1.3" />
<text x="411" y="271.4" font-size="14.5" text-anchor="start" fill="#EF4040" >-30</text>
<line x1="404.5" y1="291.65" x2="401.7" y2="291.65" stroke="#EF4040" stroke-width="1.3" />
<text x="19" y="150.3" font-size="20" text-anchor="middle" fill="#000" transform="rotate(-90 19 150.3)" >Cooling rate of center, <tspan dx="2.5">°C/s</tspan></text>
<clipPath id="clipA"><rect x="0" y="0" width="470" height="347"/></clipPath><g clip-path="url(#clipA)">
<text x="450.2" y="149.5" font-size="20" text-anchor="middle" fill="#FF0000" transform="rotate(-90 450.2 149.5)" >Cooling rate of surface, <tspan dx="2.5">°C/s</tspan></text>
</g>
<text x="231.4" y="339" font-size="20" text-anchor="middle" fill="#000" >Time, s</text>
<text x="385.3" y="31" font-size="18.5" text-anchor="middle" fill="#000" >(a)</text>
<text x="104" y="161.8" font-size="17" text-anchor="start" fill="#000" >Average cooling rate:</text>
<text x="104" y="182.9" font-size="17" text-anchor="start" fill="#000" >Exit of the mold: -8.87 °C/s</text>
<text x="104" y="204" font-size="17" text-anchor="start" fill="#000" >Exit of foot roll area: -1.37 °C/s</text>
<text x="104" y="225.1" font-size="17" text-anchor="start" fill="#000" >Exit of segment I: -0.54 °C/s</text>
<text x="104" y="246.2" font-size="17" text-anchor="start" fill="#000" >Exit of segment II: -0.23 °C/s</text>
<text x="104" y="267.3" font-size="17" text-anchor="start" fill="#000" >Exit of segment III: -0.14 °C/s</text>
</g>
<g id="panelB">
<line x1="535.2" y1="9.5" x2="884.9" y2="9.5" stroke="#4a4a4a" stroke-width="1" />
<line x1="884.5" y1="9.5" x2="884.5" y2="288.35" stroke="#333" stroke-width="0.9" />
<line x1="535.7" y1="9.5" x2="535.7" y2="288.95" stroke="#4a4a4a" stroke-width="1.1" />
<line x1="535.2" y1="288.35" x2="885" y2="288.35" stroke="#000" stroke-width="1.25" />
<text x="535.7" y="305" font-size="14.4" text-anchor="middle" fill="#000" >0.70</text>
<line x1="564.77" y1="288.35" x2="564.77" y2="285.75" stroke="#555" stroke-width="1.1" />
<line x1="593.83" y1="288.35" x2="593.83" y2="283.75" stroke="#000" stroke-width="1.1" />
<text x="593.83" y="305" font-size="14.4" text-anchor="middle" fill="#000" >0.75</text>
<line x1="622.9" y1="288.35" x2="622.9" y2="285.75" stroke="#555" stroke-width="1.1" />
<line x1="651.97" y1="288.35" x2="651.97" y2="283.75" stroke="#000" stroke-width="1.1" />
<text x="651.97" y="305" font-size="14.4" text-anchor="middle" fill="#000" >0.80</text>
<line x1="681.03" y1="288.35" x2="681.03" y2="285.75" stroke="#555" stroke-width="1.1" />
<line x1="710.1" y1="288.35" x2="710.1" y2="283.75" stroke="#000" stroke-width="1.1" />
<text x="710.1" y="305" font-size="14.4" text-anchor="middle" fill="#000" >0.85</text>
<line x1="739.17" y1="288.35" x2="739.17" y2="285.75" stroke="#555" stroke-width="1.1" />
<line x1="768.23" y1="288.35" x2="768.23" y2="283.75" stroke="#000" stroke-width="1.1" />
<text x="768.23" y="305" font-size="14.4" text-anchor="middle" fill="#000" >0.90</text>
<line x1="797.3" y1="288.35" x2="797.3" y2="285.75" stroke="#555" stroke-width="1.1" />
<line x1="826.37" y1="288.35" x2="826.37" y2="283.75" stroke="#000" stroke-width="1.1" />
<text x="826.37" y="305" font-size="14.4" text-anchor="middle" fill="#000" >0.95</text>
<line x1="855.43" y1="288.35" x2="855.43" y2="285.75" stroke="#555" stroke-width="1.1" />
<line x1="884.5" y1="288.35" x2="884.5" y2="283.75" stroke="#000" stroke-width="1.1" />
<text x="884.5" y="305" font-size="14.4" text-anchor="middle" fill="#000" >1.00</text>
<line x1="535.7" y1="288.35" x2="540.3" y2="288.35" stroke="#333" stroke-width="1.1" />
<text x="529.3" y="292.35" font-size="14.4" text-anchor="end" fill="#000" >0.0</text>
<line x1="535.7" y1="270.92" x2="538.5" y2="270.92" stroke="#555" stroke-width="1.1" />
<line x1="535.7" y1="253.49" x2="540.3" y2="253.49" stroke="#333" stroke-width="1.1" />
<text x="529.3" y="257.49" font-size="14.4" text-anchor="end" fill="#000" >0.5</text>
<line x1="535.7" y1="236.07" x2="538.5" y2="236.07" stroke="#555" stroke-width="1.1" />
<line x1="535.7" y1="218.64" x2="540.3" y2="218.64" stroke="#333" stroke-width="1.1" />
<text x="529.3" y="222.64" font-size="14.4" text-anchor="end" fill="#000" >1.0</text>
<line x1="535.7" y1="201.21" x2="538.5" y2="201.21" stroke="#555" stroke-width="1.1" />
<line x1="535.7" y1="183.78" x2="540.3" y2="183.78" stroke="#333" stroke-width="1.1" />
<text x="529.3" y="187.78" font-size="14.4" text-anchor="end" fill="#000" >1.5</text>
<line x1="535.7" y1="166.35" x2="538.5" y2="166.35" stroke="#555" stroke-width="1.1" />
<line x1="535.7" y1="148.93" x2="540.3" y2="148.93" stroke="#333" stroke-width="1.1" />
<text x="529.3" y="152.93" font-size="14.4" text-anchor="end" fill="#000" >2.0</text>
<line x1="535.7" y1="131.5" x2="538.5" y2="131.5" stroke="#555" stroke-width="1.1" />
<line x1="535.7" y1="114.07" x2="540.3" y2="114.07" stroke="#333" stroke-width="1.1" />
<text x="529.3" y="118.07" font-size="14.4" text-anchor="end" fill="#000" >2.5</text>
<line x1="535.7" y1="96.64" x2="538.5" y2="96.64" stroke="#555" stroke-width="1.1" />
<line x1="535.7" y1="79.21" x2="540.3" y2="79.21" stroke="#333" stroke-width="1.1" />
<text x="529.3" y="83.21" font-size="14.4" text-anchor="end" fill="#000" >3.0</text>
<line x1="535.7" y1="61.78" x2="538.5" y2="61.78" stroke="#555" stroke-width="1.1" />
<line x1="535.7" y1="44.36" x2="540.3" y2="44.36" stroke="#333" stroke-width="1.1" />
<text x="529.3" y="48.36" font-size="14.4" text-anchor="end" fill="#000" >3.5</text>
<line x1="535.7" y1="26.93" x2="538.5" y2="26.93" stroke="#555" stroke-width="1.1" />
<line x1="535.7" y1="9.5" x2="540.3" y2="9.5" stroke="#333" stroke-width="1.1" />
<text x="529.3" y="13.5" font-size="14.4" text-anchor="end" fill="#000" >4.0</text>
<clipPath id="clipB"><rect x="535.7" y="9.5" width="348.79999999999995" height="279.85"/></clipPath>
<g clip-path="url(#clipB)">
<path d="M564.77 288.35 L575.81 288.35 L578.38 286.59 L580.96 283.3 L583.53 279.75 L586.1 276.29 L588.67 272.97 L591.25 269.78 L593.82 266.67 L596.39 263.61 L598.96 260.6 L601.54 257.61 L604.11 254.64 L606.68 251.69 L609.25 248.76 L611.83 245.84 L614.4 242.93 L616.97 240.04 L619.54 237.16 L622.12 234.29 L624.69 231.44 L627.26 228.6 L629.83 225.77 L632.4 222.96 L634.98 220.17 L637.55 217.39 L640.12 214.62 L642.69 211.87 L645.27 209.14 L647.84 206.42 L650.41 203.72 L652.98 201.03 L655.56 198.37 L658.13 195.72 L660.7 193.08 L663.27 190.47 L665.85 187.87 L668.42 185.29 L670.99 182.74 L673.56 180.2 L676.14 177.68 L678.71 175.18 L681.28 172.7 L683.85 170.24 L686.43 167.81 L689 165.39 L691.57 163 L694.14 160.63 L696.71 158.28 L699.29 155.95 L701.86 153.65 L704.43 151.37 L707 149.12 L709.58 146.89 L712.15 144.68 L714.72 142.5 L717.29 140.34 L719.87 138.21 L722.44 136.11 L725.01 134.03 L727.58 131.98 L730.16 129.96 L732.73 127.96 L735.3 125.99 L737.87 124.05 L740.45 122.13 L743.02 120.25 L745.59 118.39 L748.16 116.56 L750.74 114.76 L753.31 112.99 L755.88 111.25 L758.45 109.54 L761.02 107.86 L763.6 106.21 L766.17 104.59 L768.74 103 L771.31 101.44 L773.89 99.92 L776.46 98.43 L779.03 96.96 L781.6 95.53 L784.18 94.14 L786.75 92.77 L789.32 91.44 L791.89 90.14 L794.47 88.88 L797.04 87.64 L799.61 86.44 L802.18 85.28 L804.76 84.15 L807.33 83.05 L809.9 81.99 L812.47 80.96 L815.05 79.97 L817.62 79.01 L820.19 78.09 L822.76 77.2 L825.33 76.34 L827.91 75.53 L830.48 74.74 L833.05 74 L835.62 73.28 L838.2 72.61 L840.77 71.97 L843.34 71.36 L845.91 70.8 L848.49 70.27 L851.06 69.77 L853.63 69.31 L856.2 68.89 L858.78 68.5 L861.35 68.15 L863.92 67.84 L866.49 67.57 L869.07 67.33 L871.64 67.12 L874.21 66.96 L876.78 66.83 L879.36 66.74 L881.93 66.68 L884.5 66.66" fill="none" stroke="#515151" stroke-width="2.1" stroke-linejoin="round"/>
<path d="M564.77 288.35 L575.81 288.35 L578.38 286.87 L580.96 284.22 L583.53 281.42 L586.1 278.75 L588.67 276.21 L591.25 273.8 L593.82 271.47 L596.39 269.19 L598.96 266.96 L601.54 264.75 L604.11 262.57 L606.68 260.41 L609.25 258.27 L611.83 256.15 L614.4 254.04 L616.97 251.95 L619.54 249.87 L622.12 247.81 L624.69 245.76 L627.26 243.72 L629.83 241.7 L632.4 239.7 L634.98 237.71 L637.55 235.73 L640.12 233.76 L642.69 231.81 L645.27 229.87 L647.84 227.95 L650.41 226.04 L652.98 224.15 L655.56 222.27 L658.13 220.41 L660.7 218.56 L663.27 216.72 L665.85 214.9 L668.42 213.09 L670.99 211.3 L673.56 209.53 L676.14 207.77 L678.71 206.02 L681.28 204.3 L683.85 202.58 L686.43 200.89 L689 199.21 L691.57 197.55 L694.14 195.9 L696.71 194.27 L699.29 192.66 L701.86 191.07 L704.43 189.49 L707 187.93 L709.58 186.39 L712.15 184.86 L714.72 183.36 L717.29 181.87 L719.87 180.4 L722.44 178.95 L725.01 177.52 L727.58 176.11 L730.16 174.71 L732.73 173.34 L735.3 171.99 L737.87 170.65 L740.45 169.34 L743.02 168.04 L745.59 166.77 L748.16 165.52 L750.74 164.28 L753.31 163.07 L755.88 161.88 L758.45 160.71 L761.02 159.56 L763.6 158.43 L766.17 157.32 L768.74 156.24 L771.31 155.17 L773.89 154.13 L776.46 153.11 L779.03 152.11 L781.6 151.14 L784.18 150.18 L786.75 149.25 L789.32 148.34 L791.89 147.46 L794.47 146.6 L797.04 145.76 L799.61 144.94 L802.18 144.15 L804.76 143.38 L807.33 142.63 L809.9 141.91 L812.47 141.21 L815.05 140.53 L817.62 139.88 L820.19 139.25 L822.76 138.65 L825.33 138.07 L827.91 137.51 L830.48 136.98 L833.05 136.47 L835.62 135.99 L838.2 135.53 L840.77 135.1 L843.34 134.69 L845.91 134.3 L848.49 133.94 L851.06 133.6 L853.63 133.29 L856.2 133.01 L858.78 132.75 L861.35 132.51 L863.92 132.3 L866.49 132.11 L869.07 131.95 L871.64 131.81 L874.21 131.7 L876.78 131.61 L879.36 131.55 L881.93 131.51 L884.5 131.5" fill="none" stroke="#F14040" stroke-width="2.1" stroke-linejoin="round"/>
<path d="M564.77 288.35 L575.81 288.35 L578.38 287.18 L580.96 285.2 L583.53 283.17 L586.1 281.28 L588.67 279.51 L591.25 277.85 L593.82 276.26 L596.39 274.72 L598.96 273.22 L601.54 271.75 L604.11 270.3 L606.68 268.87 L609.25 267.46 L611.83 266.07 L614.4 264.69 L616.97 263.32 L619.54 261.98 L622.12 260.64 L624.69 259.32 L627.26 258.01 L629.83 256.71 L632.4 255.42 L634.98 254.15 L637.55 252.88 L640.12 251.63 L642.69 250.39 L645.27 249.16 L647.84 247.94 L650.41 246.74 L652.98 245.54 L655.56 244.35 L658.13 243.18 L660.7 242.02 L663.27 240.87 L665.85 239.72 L668.42 238.59 L670.99 237.47 L673.56 236.37 L676.14 235.27 L678.71 234.18 L681.28 233.11 L683.85 232.04 L686.43 230.99 L689 229.95 L691.57 228.92 L694.14 227.9 L696.71 226.89 L699.29 225.9 L701.86 224.91 L704.43 223.94 L707 222.98 L709.58 222.03 L712.15 221.09 L714.72 220.17 L717.29 219.25 L719.87 218.35 L722.44 217.46 L725.01 216.58 L727.58 215.72 L730.16 214.87 L732.73 214.03 L735.3 213.2 L737.87 212.38 L740.45 211.58 L743.02 210.79 L745.59 210.01 L748.16 209.25 L750.74 208.5 L753.31 207.76 L755.88 207.03 L758.45 206.32 L761.02 205.62 L763.6 204.94 L766.17 204.26 L768.74 203.61 L771.31 202.96 L773.89 202.33 L776.46 201.71 L779.03 201.1 L781.6 200.51 L784.18 199.94 L786.75 199.37 L789.32 198.82 L791.89 198.29 L794.47 197.77 L797.04 197.26 L799.61 196.77 L802.18 196.29 L804.76 195.82 L807.33 195.37 L809.9 194.93 L812.47 194.51 L815.05 194.1 L817.62 193.71 L820.19 193.33 L822.76 192.97 L825.33 192.62 L827.91 192.28 L830.48 191.96 L833.05 191.66 L835.62 191.37 L838.2 191.09 L840.77 190.83 L843.34 190.58 L845.91 190.35 L848.49 190.13 L851.06 189.93 L853.63 189.74 L856.2 189.57 L858.78 189.41 L861.35 189.27 L863.92 189.14 L866.49 189.03 L869.07 188.93 L871.64 188.85 L874.21 188.78 L876.78 188.73 L879.36 188.69 L881.93 188.67 L884.5 188.66" fill="none" stroke="#1A6FDF" stroke-width="2.1" stroke-linejoin="round"/>
<path d="M564.77 288.35 L575.81 288.35 L578.38 287.91 L580.96 287.2 L583.53 286.5 L586.1 285.84 L588.67 285.25 L591.25 284.69 L593.82 284.16 L596.39 283.65 L598.96 283.16 L601.54 282.68 L604.11 282.21 L606.68 281.75 L609.25 281.29 L611.83 280.84 L614.4 280.4 L616.97 279.96 L619.54 279.53 L622.12 279.11 L624.69 278.69 L627.26 278.27 L629.83 277.86 L632.4 277.45 L634.98 277.05 L637.55 276.65 L640.12 276.26 L642.69 275.87 L645.27 275.48 L647.84 275.1 L650.41 274.72 L652.98 274.35 L655.56 273.98 L658.13 273.62 L660.7 273.25 L663.27 272.89 L665.85 272.54 L668.42 272.19 L670.99 271.84 L673.56 271.5 L676.14 271.16 L678.71 270.83 L681.28 270.49 L683.85 270.16 L686.43 269.84 L689 269.52 L691.57 269.2 L694.14 268.89 L696.71 268.58 L699.29 268.27 L701.86 267.97 L704.43 267.67 L707 267.38 L709.58 267.09 L712.15 266.8 L714.72 266.52 L717.29 266.24 L719.87 265.97 L722.44 265.69 L725.01 265.43 L727.58 265.16 L730.16 264.9 L732.73 264.65 L735.3 264.4 L737.87 264.15 L740.45 263.9 L743.02 263.66 L745.59 263.43 L748.16 263.19 L750.74 262.97 L753.31 262.74 L755.88 262.52 L758.45 262.31 L761.02 262.1 L763.6 261.89 L766.17 261.68 L768.74 261.48 L771.31 261.29 L773.89 261.1 L776.46 260.91 L779.03 260.73 L781.6 260.55 L784.18 260.38 L786.75 260.21 L789.32 260.04 L791.89 259.88 L794.47 259.72 L797.04 259.57 L799.61 259.42 L802.18 259.27 L804.76 259.13 L807.33 259 L809.9 258.87 L812.47 258.74 L815.05 258.62 L817.62 258.5 L820.19 258.38 L822.76 258.27 L825.33 258.17 L827.91 258.07 L830.48 257.97 L833.05 257.88 L835.62 257.79 L838.2 257.71 L840.77 257.63 L843.34 257.56 L845.91 257.49 L848.49 257.42 L851.06 257.36 L853.63 257.3 L856.2 257.25 L858.78 257.2 L861.35 257.16 L863.92 257.12 L866.49 257.09 L869.07 257.06 L871.64 257.04 L874.21 257.02 L876.78 257 L879.36 256.99 L881.93 256.98 L884.5 256.98" fill="none" stroke="#37AD6B" stroke-width="2.1" stroke-linejoin="round"/>
<path d="M564.77 288.35 L575.81 288.35 L578.38 288.04 L580.96 287.53 L583.53 287.03 L586.1 286.57 L588.67 286.14 L591.25 285.75 L593.82 285.37 L596.39 285.01 L598.96 284.66 L601.54 284.32 L604.11 283.98 L606.68 283.65 L609.25 283.33 L611.83 283.01 L614.4 282.7 L616.97 282.39 L619.54 282.08 L622.12 281.78 L624.69 281.48 L627.26 281.18 L629.83 280.89 L632.4 280.6 L634.98 280.31 L637.55 280.03 L640.12 279.75 L642.69 279.47 L645.27 279.2 L647.84 278.93 L650.41 278.66 L652.98 278.39 L655.56 278.13 L658.13 277.87 L660.7 277.61 L663.27 277.36 L665.85 277.11 L668.42 276.86 L670.99 276.61 L673.56 276.37 L676.14 276.13 L678.71 275.89 L681.28 275.65 L683.85 275.42 L686.43 275.19 L689 274.96 L691.57 274.73 L694.14 274.51 L696.71 274.29 L699.29 274.07 L701.86 273.86 L704.43 273.65 L707 273.44 L709.58 273.23 L712.15 273.03 L714.72 272.83 L717.29 272.63 L719.87 272.43 L722.44 272.24 L725.01 272.05 L727.58 271.86 L730.16 271.68 L732.73 271.49 L735.3 271.32 L737.87 271.14 L740.45 270.97 L743.02 270.79 L745.59 270.63 L748.16 270.46 L750.74 270.3 L753.31 270.14 L755.88 269.98 L758.45 269.83 L761.02 269.68 L763.6 269.53 L766.17 269.39 L768.74 269.25 L771.31 269.11 L773.89 268.97 L776.46 268.84 L779.03 268.71 L781.6 268.58 L784.18 268.46 L786.75 268.34 L789.32 268.22 L791.89 268.1 L794.47 267.99 L797.04 267.88 L799.61 267.78 L802.18 267.67 L804.76 267.57 L807.33 267.48 L809.9 267.38 L812.47 267.29 L815.05 267.21 L817.62 267.12 L820.19 267.04 L822.76 266.96 L825.33 266.89 L827.91 266.82 L830.48 266.75 L833.05 266.68 L835.62 266.62 L838.2 266.56 L840.77 266.5 L843.34 266.45 L845.91 266.4 L848.49 266.36 L851.06 266.31 L853.63 266.27 L856.2 266.24 L858.78 266.2 L861.35 266.17 L863.92 266.14 L866.49 266.12 L869.07 266.1 L871.64 266.08 L874.21 266.07 L876.78 266.06 L879.36 266.05 L881.93 266.04 L884.5 266.04" fill="none" stroke="#B177DE" stroke-width="2.1" stroke-linejoin="round"/>
<path d="M564.77 288.35 L575.81 288.35 L578.38 288.17 L580.96 287.87 L583.53 287.57 L586.1 287.29 L588.67 287.04 L591.25 286.8 L593.82 286.58 L596.39 286.37 L598.96 286.16 L601.54 285.96 L604.11 285.76 L606.68 285.56 L609.25 285.37 L611.83 285.18 L614.4 284.99 L616.97 284.81 L619.54 284.63 L622.12 284.45 L624.69 284.27 L627.26 284.09 L629.83 283.92 L632.4 283.75 L634.98 283.58 L637.55 283.41 L640.12 283.24 L642.69 283.08 L645.27 282.92 L647.84 282.76 L650.41 282.6 L652.98 282.44 L655.56 282.28 L658.13 282.13 L660.7 281.98 L663.27 281.82 L665.85 281.67 L668.42 281.53 L670.99 281.38 L673.56 281.24 L676.14 281.09 L678.71 280.95 L681.28 280.81 L683.85 280.67 L686.43 280.53 L689 280.4 L691.57 280.27 L694.14 280.13 L696.71 280 L699.29 279.87 L701.86 279.75 L704.43 279.62 L707 279.5 L709.58 279.37 L712.15 279.25 L714.72 279.13 L717.29 279.01 L719.87 278.9 L722.44 278.78 L725.01 278.67 L727.58 278.56 L730.16 278.45 L732.73 278.34 L735.3 278.24 L737.87 278.13 L740.45 278.03 L743.02 277.93 L745.59 277.83 L748.16 277.73 L750.74 277.63 L753.31 277.54 L755.88 277.45 L758.45 277.35 L761.02 277.26 L763.6 277.18 L766.17 277.09 L768.74 277.01 L771.31 276.92 L773.89 276.84 L776.46 276.76 L779.03 276.69 L781.6 276.61 L784.18 276.54 L786.75 276.47 L789.32 276.4 L791.89 276.33 L794.47 276.26 L797.04 276.2 L799.61 276.13 L802.18 276.07 L804.76 276.01 L807.33 275.96 L809.9 275.9 L812.47 275.85 L815.05 275.8 L817.62 275.75 L820.19 275.7 L822.76 275.65 L825.33 275.61 L827.91 275.56 L830.48 275.52 L833.05 275.48 L835.62 275.45 L838.2 275.41 L840.77 275.38 L843.34 275.35 L845.91 275.32 L848.49 275.29 L851.06 275.27 L853.63 275.24 L856.2 275.22 L858.78 275.2 L861.35 275.18 L863.92 275.17 L866.49 275.15 L869.07 275.14 L871.64 275.13 L874.21 275.12 L876.78 275.11 L879.36 275.11 L881.93 275.11 L884.5 275.1" fill="none" stroke="#CC9900" stroke-width="2.1" stroke-linejoin="round"/>
<path d="M564.77 288.35 L575.81 288.35 L578.38 288.21 L580.96 287.99 L583.53 287.77 L586.1 287.57 L588.67 287.38 L591.25 287.21 L593.82 287.05 L596.39 286.89 L598.96 286.74 L601.54 286.59 L604.11 286.44 L606.68 286.3 L609.25 286.15 L611.83 286.01 L614.4 285.88 L616.97 285.74 L619.54 285.61 L622.12 285.47 L624.69 285.34 L627.26 285.21 L629.83 285.09 L632.4 284.96 L634.98 284.83 L637.55 284.71 L640.12 284.59 L642.69 284.47 L645.27 284.35 L647.84 284.23 L650.41 284.11 L652.98 283.99 L655.56 283.88 L658.13 283.77 L660.7 283.65 L663.27 283.54 L665.85 283.43 L668.42 283.32 L670.99 283.21 L673.56 283.11 L676.14 283 L678.71 282.9 L681.28 282.79 L683.85 282.69 L686.43 282.59 L689 282.49 L691.57 282.39 L694.14 282.3 L696.71 282.2 L699.29 282.1 L701.86 282.01 L704.43 281.92 L707 281.83 L709.58 281.74 L712.15 281.65 L714.72 281.56 L717.29 281.47 L719.87 281.39 L722.44 281.3 L725.01 281.22 L727.58 281.14 L730.16 281.06 L732.73 280.98 L735.3 280.9 L737.87 280.82 L740.45 280.74 L743.02 280.67 L745.59 280.6 L748.16 280.52 L750.74 280.45 L753.31 280.38 L755.88 280.31 L758.45 280.25 L761.02 280.18 L763.6 280.12 L766.17 280.05 L768.74 279.99 L771.31 279.93 L773.89 279.87 L776.46 279.81 L779.03 279.76 L781.6 279.7 L784.18 279.65 L786.75 279.59 L789.32 279.54 L791.89 279.49 L794.47 279.44 L797.04 279.4 L799.61 279.35 L802.18 279.3 L804.76 279.26 L807.33 279.22 L809.9 279.18 L812.47 279.14 L815.05 279.1 L817.62 279.06 L820.19 279.03 L822.76 278.99 L825.33 278.96 L827.91 278.93 L830.48 278.9 L833.05 278.87 L835.62 278.84 L838.2 278.82 L840.77 278.79 L843.34 278.77 L845.91 278.75 L848.49 278.73 L851.06 278.71 L853.63 278.69 L856.2 278.68 L858.78 278.66 L861.35 278.65 L863.92 278.64 L866.49 278.62 L869.07 278.62 L871.64 278.61 L874.21 278.6 L876.78 278.6 L879.36 278.59 L881.93 278.59 L884.5 278.59" fill="none" stroke="#00CBCC" stroke-width="2.1" stroke-linejoin="round"/>
<path d="M564.77 288.35 L575.81 288.35 L578.38 288.25 L580.96 288.09 L583.53 287.94 L586.1 287.79 L588.67 287.66 L591.25 287.54 L593.82 287.42 L596.39 287.31 L598.96 287.2 L601.54 287.09 L604.11 286.99 L606.68 286.88 L609.25 286.78 L611.83 286.68 L614.4 286.58 L616.97 286.49 L619.54 286.39 L622.12 286.3 L624.69 286.2 L627.26 286.11 L629.83 286.02 L632.4 285.93 L634.98 285.84 L637.55 285.75 L640.12 285.66 L642.69 285.58 L645.27 285.49 L647.84 285.41 L650.41 285.32 L652.98 285.24 L655.56 285.16 L658.13 285.08 L660.7 285 L663.27 284.92 L665.85 284.84 L668.42 284.76 L670.99 284.68 L673.56 284.61 L676.14 284.53 L678.71 284.46 L681.28 284.38 L683.85 284.31 L686.43 284.24 L689 284.17 L691.57 284.1 L694.14 284.03 L696.71 283.96 L699.29 283.89 L701.86 283.82 L704.43 283.76 L707 283.69 L709.58 283.63 L712.15 283.56 L714.72 283.5 L717.29 283.44 L719.87 283.38 L722.44 283.32 L725.01 283.26 L727.58 283.2 L730.16 283.14 L732.73 283.08 L735.3 283.03 L737.87 282.97 L740.45 282.92 L743.02 282.86 L745.59 282.81 L748.16 282.76 L750.74 282.71 L753.31 282.66 L755.88 282.61 L758.45 282.56 L761.02 282.52 L763.6 282.47 L766.17 282.42 L768.74 282.38 L771.31 282.34 L773.89 282.29 L776.46 282.25 L779.03 282.21 L781.6 282.17 L784.18 282.13 L786.75 282.1 L789.32 282.06 L791.89 282.02 L794.47 281.99 L797.04 281.95 L799.61 281.92 L802.18 281.89 L804.76 281.86 L807.33 281.83 L809.9 281.8 L812.47 281.77 L815.05 281.74 L817.62 281.72 L820.19 281.69 L822.76 281.67 L825.33 281.64 L827.91 281.62 L830.48 281.6 L833.05 281.58 L835.62 281.56 L838.2 281.54 L840.77 281.52 L843.34 281.51 L845.91 281.49 L848.49 281.48 L851.06 281.46 L853.63 281.45 L856.2 281.44 L858.78 281.43 L861.35 281.42 L863.92 281.41 L866.49 281.4 L869.07 281.4 L871.64 281.39 L874.21 281.39 L876.78 281.38 L879.36 281.38 L881.93 281.38 L884.5 281.38" fill="none" stroke="#7D4E4E" stroke-width="2.1" stroke-linejoin="round"/>
</g>
<line x1="551" y1="23" x2="585.3" y2="23" stroke="#515151" stroke-width="2.2" />
<text x="588" y="27.8" font-size="14.5" text-anchor="start" fill="#000" >0.1 K/s</text>
<line x1="551" y1="40.86" x2="585.3" y2="40.86" stroke="#F14040" stroke-width="2.2" />
<text x="588" y="45.66" font-size="14.5" text-anchor="start" fill="#000" >0.2 K/s</text>
<line x1="551" y1="58.72" x2="585.3" y2="58.72" stroke="#1A6FDF" stroke-width="2.2" />
<text x="588" y="63.52" font-size="14.5" text-anchor="start" fill="#000" >0.5 K/s</text>
<line x1="551" y1="76.58" x2="585.3" y2="76.58" stroke="#37AD6B" stroke-width="2.2" />
<text x="588" y="81.38" font-size="14.5" text-anchor="start" fill="#000" >5 K/s</text>
<line x1="551" y1="94.44" x2="585.3" y2="94.44" stroke="#B177DE" stroke-width="2.2" />
<text x="588" y="99.24" font-size="14.5" text-anchor="start" fill="#000" >10 K/s</text>
<line x1="551" y1="112.3" x2="585.3" y2="112.3" stroke="#CC9900" stroke-width="2.2" />
<text x="588" y="117.1" font-size="14.5" text-anchor="start" fill="#000" >30 K/s</text>
<line x1="551" y1="130.16" x2="585.3" y2="130.16" stroke="#00CBCC" stroke-width="2.2" />
<text x="588" y="134.96" font-size="14.5" text-anchor="start" fill="#000" >50 K/s</text>
<line x1="551" y1="148.02" x2="585.3" y2="148.02" stroke="#7D4E4E" stroke-width="2.2" />
<text x="588" y="152.82" font-size="14.5" text-anchor="start" fill="#000" >100 K/s</text>
<text x="493.5" y="139.6" font-size="20.4" text-anchor="middle" fill="#000" transform="rotate(-90 493.5 139.6)" >Radius of MnS, µm</text>
<text y="334.5" fill="#000"><tspan x="642" font-size="20.6">Solid fraction,</tspan><tspan x="763.2" font-size="22" font-style="italic">f</tspan><tspan x="770.5" y="338.5" font-style="italic" font-size="14.5">S</tspan></text>
<text x="866" y="30" font-size="18" text-anchor="middle" fill="#000" >(b)</text>
</g>
<g id="panelC">
<path d="M295.84 561.25 L295.84 561.86 L295.85 562.46 L295.85 563.06 L295.86 563.65 L295.87 564.24 L295.87 564.82 L295.88 565.4 L295.89 565.97 L295.89 566.54 L295.9 567.1 L295.91 567.66 L295.91 568.21 L295.92 568.76 L295.93 569.31 L295.94 569.85 L295.94 570.38 L295.95 570.91 L295.96 571.44 L295.97 571.96 L295.98 572.48 L295.98 572.99 L295.99 573.5 L296 574.01 L296.01 574.51 L296.02 575 L296.03 575.5 L296.04 575.98 L296.05 576.47 L296.06 576.95 L296.07 577.42 L296.08 577.9 L296.09 578.36 L296.1 578.83 L296.11 579.29 L296.12 579.74 L296.13 580.19 L296.14 580.64 L296.15 581.09 L296.16 581.53 L296.17 581.97 L296.18 582.4 L296.2 582.83 L296.21 583.25 L296.22 583.68 L296.23 584.1 L296.25 584.51 L296.26 584.92 L296.27 585.33 L296.29 585.74 L296.3 586.14 L296.31 586.54 L296.33 586.93 L296.34 587.32 L296.36 587.71 L296.37 588.1 L296.39 588.48 L296.4 588.86 L296.42 589.23 L296.43 589.6 L296.45 589.97 L296.47 590.34 L296.48 590.7 L296.5 591.06 L296.52 591.42 L296.54 591.77 L296.55 592.12 L296.57 592.47 L296.59 592.82 L296.61 593.16 L296.63 593.5 L296.65 593.83 L296.67 594.17 L296.69 594.5 L296.71 594.83 L296.73 595.15 L296.75 595.47 L296.77 595.79 L296.8 596.11 L296.82 596.42 L296.84 596.73 L296.86 597.04 L296.89 597.35 L296.91 597.65 L296.94 597.96 L296.96 598.25 L296.99 598.55 L297.01 598.84 L297.04 599.13 L297.07 599.42 L297.09 599.71 L297.12 599.99 L297.15 600.28 L297.18 600.55 L297.21 600.83 L297.24 601.11 L297.27 601.38 L297.3 601.65 L297.33 601.92 L297.36 602.18 L297.39 602.44 L297.43 602.7 L297.46 602.96 L297.5 603.22 L297.53 603.47 L297.57 603.73 L297.6 603.98 L297.64 604.22 L297.68 604.47 L297.71 604.71 L297.75 604.96 L297.79 605.19 L297.83 605.43 L297.87 605.67 L297.91 605.9 L297.95 606.13 L298 606.36 L298.04 606.59 L298.09 606.82 L298.13 607.04 L298.18 607.26 L298.22 607.48 L298.27 607.7 L298.32 607.92 L298.37 608.13 L298.42 608.35 L298.47 608.56 L298.52 608.77 L298.57 608.97 L298.63 609.18 L298.68 609.38 L298.74 609.59 L298.79 609.79 L298.85 609.99 L298.91 610.18 L298.97 610.38 L299.03 610.57 L299.09 610.77 L299.15 610.96 L299.22 611.14 L299.28 611.33 L299.35 611.52 L299.41 611.7 L299.48 611.89 L299.55 612.07 L299.62 612.25 L299.69 612.42 L299.77 612.6 L299.84 612.78 L299.92 612.95 L299.99 613.12 L300.07 613.29 L300.15 613.46 L300.23 613.63 L300.31 613.8 L300.4 613.96 L300.48 614.13 L300.57 614.29 L300.66 614.45 L300.75 614.61 L300.84 614.77 L300.93 614.93 L301.03 615.08 L301.12 615.24 L301.22 615.39 L301.32 615.54 L301.42 615.69 L301.53 615.84 L301.63 615.99 L301.74 616.13 L301.85 616.28 L301.96 616.42 L302.07 616.57 L302.18 616.71 L302.3 616.85 L302.42 616.99 L302.54 617.13 L302.66 617.26 L302.79 617.4 L302.91 617.54 L303.04 617.67 L303.17 617.8 L303.31 617.93 L303.44 618.06 L303.58 618.19 L303.72 618.32 L303.87 618.45 L304.01 618.57 L304.16 618.7 L304.31 618.82 L304.46 618.95 L304.62 619.07 L304.78 619.19 L304.94 619.31 L305.11 619.43 L305.27 619.54 L305.44 619.66 L305.62 619.78 L305.79 619.89 L305.97 620.01 L306.15 620.12 L306.34 620.23 L306.53 620.34 L306.72 620.45 L306.92 620.56 L307.11 620.67 L307.32 620.78 L307.52 620.88 L307.73 620.99 L307.95 621.09 L308.16 621.2 L308.38 621.3 L308.61 621.4 L308.84 621.5 L309.07 621.6 L309.3 621.7 L309.54 621.8 L309.79 621.9 L310.04 621.99 L310.29 622.09 L310.55 622.19 L310.81 622.28 L311.08 622.37 L311.35 622.47 L311.63 622.56 L311.91 622.65 L312.19 622.74 L312.48 622.83 L312.78 622.92 L313.08 623.01 L313.39 623.1 L313.7 623.18 L314.01 623.27 L314.34 623.35 L314.66 623.44 L315 623.52 L315.34 623.61 L315.68 623.69 L316.04 623.77 L316.39 623.85 L316.76 623.93 L317.13 624.01 L317.5 624.09 L317.89 624.17 L318.28 624.25 L318.67 624.32 L319.08 624.4 L319.49 624.48 L319.91 624.55 L320.33 624.63 L320.76 624.7 L321.2 624.77 L321.65 624.85 L322.11 624.92 L322.57 624.99 L323.04 625.06 L323.52 625.13 L324.01 625.2 L324.51 625.27 L325.01 625.34 L325.53 625.41 L326.05 625.47 L326.58 625.54 L327.12 625.61 L327.67 625.67 L328.23 625.74 L328.8 625.8 L329.38 625.87 L329.97 625.93 L330.58 625.99 L331.19 626.05 L331.81 626.12 L332.44 626.18 L333.08 626.24 L333.74 626.3 L334.4 626.36 L335.08 626.42 L335.77 626.48 L336.47 626.54 L337.19 626.59 L337.91 626.65 L338.65 626.71 L339.4 626.76 L340.17 626.82 L340.95 626.88 L341.74 626.93 L342.54 626.98 L343.36 627.04 L344.2 627.09 L345.05 627.15 L345.91 627.2 L346.79 627.25 L347.68 627.3 L348.59 627.35 L349.51 627.4 L350.45 627.46 L351.41 627.51 L352.39 627.56 L353.38 627.6 L354.38 627.65 L355.41 627.7 L356.45 627.75 L357.52 627.8 L358.6 627.84 L359.69 627.89 L360.81 627.94 L361.95 627.98 L363.11 628.03 L364.29 628.07 L365.48 628.12 L366.7 628.16 L367.94 628.21 L369.21 628.25 L370.49 628.3 L371.8 628.34 L373.12 628.38 L374.48 628.42 L375.85 628.47 L377.25 628.51 L378.68 628.55 L380.13 628.59 L381.6 628.63 L383.1 628.67 L384.63 628.71 L386.18 628.75 L387.76 628.79 L389.36 628.83 L391 628.87 L392.66 628.9 L394.36 628.94 L396.08 628.98 L397.83 629.02 L399.61 629.05 L401.43 629.09 L403.27 629.13 L405.15 629.16 L407.06 629.2 L409 629.23 L410.98 629.27 L412.99 629.3 L415.04 629.34 L417.12 629.37 L419.24 629.41 L421.39 629.44 L423.59 629.47 L425.82 629.51 L428.09 629.54 L430.4 629.57 L432.75 629.6 L435.14 629.64 L437.57 629.67 L440.04 629.7 L442.56 629.73 L445.12 629.76 L447.73 629.79 L450.38 629.82 L453.08 629.85 L455.82 629.88 L458.62 629.91 L461.46 629.94 L464.35 629.97 L467.29 630 L470.28 630.03 L473.33 630.06 L476.43 630.08 L479.58 630.11 L482.78 630.14 L486.05 630.17 L489.37 630.19 L492.74 630.22 L496.18 630.25 L499.67 630.28 L503.23 630.3 L506.85 630.33 L510.53 630.35 L514.28 630.38 L518.09 630.4 L521.96 630.43 L525.91 630.45 L529.92 630.48 L534.01 630.5 L538.16 630.53 L542.39 630.55 L546.69 630.58 L551.06 630.6 L555.52 630.62 L560.05 630.65 L564.65 630.67 L569.34 630.69 L574.11 630.72 L578.97 630.74 L583.9 630.76 L588.93 630.78 L594.04 630.81 L599.24 630.83 L604.53 630.85 L609.91 630.87 L615.39 630.89 L620.96 630.91 L626.63 630.93 L632.4 630.96" fill="none" stroke="#0000FF" stroke-width="2.3" stroke-linejoin="round"/>
<path d="M292.84 389.98h6v6h-6zM293.17 455.87h6v6h-6zM294.18 515.51h6v6h-6zM309.35 589.25h6v6h-6zM326.19 600.35h6v6h-6zM393.57 611.44h6v6h-6zM460.95 615.14h6v6h-6zM629.4 618.84h6v6h-6zM292.84 556.89h6v6h-6zM293.17 578.39h6v6h-6zM294.18 597.34h6v6h-6zM309.35 620h6v6h-6zM326.19 623h6v6h-6zM393.57 626.01h6v6h-6zM460.95 627.16h6v6h-6zM629.4 628.09h6v6h-6z" fill="#000"/>
<path d="M295.84 394.94 L295.84 396.79 L295.85 398.62 L295.85 400.44 L295.86 402.24 L295.87 404.03 L295.87 405.81 L295.88 407.57 L295.89 409.32 L295.89 411.05 L295.9 412.77 L295.91 414.48 L295.91 416.17 L295.92 417.86 L295.93 419.52 L295.94 421.18 L295.94 422.82 L295.95 424.45 L295.96 426.07 L295.97 427.67 L295.98 429.27 L295.98 430.85 L295.99 432.42 L296 433.97 L296.01 435.52 L296.02 437.05 L296.03 438.57 L296.04 440.08 L296.05 441.57 L296.06 443.06 L296.07 444.53 L296.08 445.99 L296.09 447.44 L296.1 448.88 L296.11 450.31 L296.12 451.73 L296.13 453.13 L296.14 454.53 L296.15 455.91 L296.16 457.29 L296.17 458.65 L296.18 460 L296.2 461.35 L296.21 462.68 L296.22 464 L296.23 465.31 L296.25 466.61 L296.26 467.9 L296.27 469.19 L296.29 470.46 L296.3 471.72 L296.31 472.97 L296.33 474.21 L296.34 475.44 L296.36 476.67 L296.37 477.88 L296.39 479.08 L296.4 480.28 L296.42 481.46 L296.43 482.64 L296.45 483.81 L296.47 484.96 L296.48 486.11 L296.5 487.25 L296.52 488.39 L296.54 489.51 L296.55 490.62 L296.57 491.73 L296.59 492.82 L296.61 493.91 L296.63 494.99 L296.65 496.06 L296.67 497.13 L296.69 498.18 L296.71 499.23 L296.73 500.27 L296.75 501.3 L296.77 502.32 L296.8 503.33 L296.82 504.34 L296.84 505.34 L296.86 506.33 L296.89 507.32 L296.91 508.29 L296.94 509.26 L296.96 510.22 L296.99 511.17 L297.01 512.12 L297.04 513.06 L297.07 513.99 L297.09 514.92 L297.12 515.83 L297.15 516.74 L297.18 517.65 L297.21 518.54 L297.24 519.43 L297.27 520.31 L297.3 521.19 L297.33 522.06 L297.36 522.92 L297.39 523.77 L297.43 524.62 L297.46 525.46 L297.5 526.3 L297.53 527.13 L297.57 527.95 L297.6 528.77 L297.64 529.58 L297.68 530.38 L297.71 531.18 L297.75 531.97 L297.79 532.76 L297.83 533.54 L297.87 534.31 L297.91 535.08 L297.95 535.84 L298 536.59 L298.04 537.34 L298.09 538.08 L298.13 538.82 L298.18 539.55 L298.22 540.28 L298.27 541 L298.32 541.72 L298.37 542.43 L298.42 543.13 L298.47 543.83 L298.52 544.52 L298.57 545.21 L298.63 545.89 L298.68 546.57 L298.74 547.24 L298.79 547.91 L298.85 548.57 L298.91 549.23 L298.97 549.88 L299.03 550.53 L299.09 551.17 L299.15 551.81 L299.22 552.44 L299.28 553.06 L299.35 553.69 L299.41 554.3 L299.48 554.91 L299.55 555.52 L299.62 556.13 L299.69 556.72 L299.77 557.32 L299.84 557.91 L299.92 558.49 L299.99 559.07 L300.07 559.65 L300.15 560.22 L300.23 560.78 L300.31 561.35 L300.4 561.9 L300.48 562.46 L300.57 563.01 L300.66 563.55 L300.75 564.09 L300.84 564.63 L300.93 565.16 L301.03 565.69 L301.12 566.21 L301.22 566.73 L301.32 567.25 L301.42 567.76 L301.53 568.27 L301.63 568.77 L301.74 569.27 L301.85 569.77 L301.96 570.26 L302.07 570.75 L302.18 571.24 L302.3 571.72 L302.42 572.19 L302.54 572.67 L302.66 573.14 L302.79 573.61 L302.91 574.07 L303.04 574.53 L303.17 574.98 L303.31 575.44 L303.44 575.88 L303.58 576.33 L303.72 576.77 L303.87 577.21 L304.01 577.64 L304.16 578.08 L304.31 578.5 L304.46 578.93 L304.62 579.35 L304.78 579.77 L304.94 580.18 L305.11 580.6 L305.27 581.01 L305.44 581.41 L305.62 581.81 L305.79 582.21 L305.97 582.61 L306.15 583 L306.34 583.39 L306.53 583.78 L306.72 584.16 L306.92 584.54 L307.11 584.92 L307.32 585.3 L307.52 585.67 L307.73 586.04 L307.95 586.41 L308.16 586.77 L308.38 587.13 L308.61 587.49 L308.84 587.84 L309.07 588.2 L309.3 588.55 L309.54 588.89 L309.79 589.24 L310.04 589.58 L310.29 589.92 L310.55 590.26 L310.81 590.59 L311.08 590.92 L311.35 591.25 L311.63 591.58 L311.91 591.9 L312.19 592.22 L312.48 592.54 L312.78 592.86 L313.08 593.17 L313.39 593.48 L313.7 593.79 L314.01 594.1 L314.34 594.4 L314.66 594.7 L315 595 L315.34 595.3 L315.68 595.6 L316.04 595.89 L316.39 596.18 L316.76 596.47 L317.13 596.75 L317.5 597.04 L317.89 597.32 L318.28 597.6 L318.67 597.87 L319.08 598.15 L319.49 598.42 L319.91 598.69 L320.33 598.96 L320.76 599.23 L321.2 599.49 L321.65 599.76 L322.11 600.02 L322.57 600.27 L323.04 600.53 L323.52 600.79 L324.01 601.04 L324.51 601.29 L325.01 601.54 L325.53 601.78 L326.05 602.03 L326.58 602.27 L327.12 602.51 L327.67 602.75 L328.23 602.99 L328.8 603.22 L329.38 603.46 L329.97 603.69 L330.58 603.92 L331.19 604.15 L331.81 604.37 L332.44 604.6 L333.08 604.82 L333.74 605.04 L334.4 605.26 L335.08 605.48 L335.77 605.7 L336.47 605.91 L337.19 606.12 L337.91 606.33 L338.65 606.54 L339.4 606.75 L340.17 606.96 L340.95 607.16 L341.74 607.37 L342.54 607.57 L343.36 607.77 L344.2 607.97 L345.05 608.16 L345.91 608.36 L346.79 608.55 L347.68 608.74 L348.59 608.94 L349.51 609.12 L350.45 609.31 L351.41 609.5 L352.39 609.68 L353.38 609.87 L354.38 610.05 L355.41 610.23 L356.45 610.41 L357.52 610.59 L358.6 610.76 L359.69 610.94 L360.81 611.11 L361.95 611.29 L363.11 611.46 L364.29 611.63 L365.48 611.8 L366.7 611.96 L367.94 612.13 L369.21 612.29 L370.49 612.46 L371.8 612.62 L373.12 612.78 L374.48 612.94 L375.85 613.1 L377.25 613.26 L378.68 613.41 L380.13 613.57 L381.6 613.72 L383.1 613.87 L384.63 614.02 L386.18 614.17 L387.76 614.32 L389.36 614.47 L391 614.62 L392.66 614.76 L394.36 614.91 L396.08 615.05 L397.83 615.19 L399.61 615.33 L401.43 615.47 L403.27 615.61 L405.15 615.75 L407.06 615.88 L409 616.02 L410.98 616.16 L412.99 616.29 L415.04 616.42 L417.12 616.55 L419.24 616.68 L421.39 616.81 L423.59 616.94 L425.82 617.07 L428.09 617.19 L430.4 617.32 L432.75 617.44 L435.14 617.57 L437.57 617.69 L440.04 617.81 L442.56 617.93 L445.12 618.05 L447.73 618.17 L450.38 618.29 L453.08 618.41 L455.82 618.52 L458.62 618.64 L461.46 618.75 L464.35 618.87 L467.29 618.98 L470.28 619.09 L473.33 619.2 L476.43 619.31 L479.58 619.42 L482.78 619.53 L486.05 619.63 L489.37 619.74 L492.74 619.85 L496.18 619.95 L499.67 620.06 L503.23 620.16 L506.85 620.26 L510.53 620.36 L514.28 620.46 L518.09 620.56 L521.96 620.66 L525.91 620.76 L529.92 620.86 L534.01 620.96 L538.16 621.05 L542.39 621.15 L546.69 621.24 L551.06 621.34 L555.52 621.43 L560.05 621.52 L564.65 621.62 L569.34 621.71 L574.11 621.8 L578.97 621.89 L583.9 621.98 L588.93 622.07 L594.04 622.15 L599.24 622.24 L604.53 622.33 L609.91 622.41 L615.39 622.5 L620.96 622.58 L626.63 622.67 L632.4 622.75" fill="none" stroke="#FF0000" stroke-width="2.3" stroke-dasharray="26 4 3 4" stroke-dashoffset="6" stroke-linejoin="round"/>
<path d="M295.84 561.25 L295.84 561.86 L295.85 562.46 L295.85 563.06 L295.86 563.65 L295.87 564.24 L295.87 564.82 L295.88 565.4 L295.89 565.97 L295.89 566.54 L295.9 567.1 L295.91 567.66 L295.91 568.21 L295.92 568.76 L295.93 569.31 L295.94 569.85 L295.94 570.38 L295.95 570.91 L295.96 571.44 L295.97 571.96 L295.98 572.48 L295.98 572.99 L295.99 573.5 L296 574.01 L296.01 574.51 L296.02 575 L296.03 575.5 L296.04 575.98 L296.05 576.47 L296.06 576.95 L296.07 577.42 L296.08 577.9 L296.09 578.36 L296.1 578.83 L296.11 579.29 L296.12 579.74 L296.13 580.19 L296.14 580.64 L296.15 581.09 L296.16 581.53 L296.17 581.97 L296.18 582.4 L296.2 582.83 L296.21 583.25 L296.22 583.68 L296.23 584.1 L296.25 584.51 L296.26 584.92 L296.27 585.33 L296.29 585.74 L296.3 586.14 L296.31 586.54 L296.33 586.93 L296.34 587.32 L296.36 587.71 L296.37 588.1 L296.39 588.48 L296.4 588.86 L296.42 589.23 L296.43 589.6 L296.45 589.97 L296.47 590.34 L296.48 590.7 L296.5 591.06 L296.52 591.42 L296.54 591.77 L296.55 592.12 L296.57 592.47 L296.59 592.82 L296.61 593.16 L296.63 593.5 L296.65 593.83 L296.67 594.17 L296.69 594.5 L296.71 594.83 L296.73 595.15 L296.75 595.47 L296.77 595.79 L296.8 596.11 L296.82 596.42 L296.84 596.73 L296.86 597.04 L296.89 597.35 L296.91 597.65 L296.94 597.96 L296.96 598.25 L296.99 598.55 L297.01 598.84 L297.04 599.13 L297.07 599.42 L297.09 599.71 L297.12 599.99 L297.15 600.28 L297.18 600.55 L297.21 600.83 L297.24 601.11 L297.27 601.38 L297.3 601.65 L297.33 601.92 L297.36 602.18 L297.39 602.44 L297.43 602.7 L297.46 602.96 L297.5 603.22 L297.53 603.47 L297.57 603.73 L297.6 603.98 L297.64 604.22 L297.68 604.47 L297.71 604.71 L297.75 604.96 L297.79 605.19 L297.83 605.43 L297.87 605.67 L297.91 605.9 L297.95 606.13 L298 606.36 L298.04 606.59 L298.09 606.82 L298.13 607.04 L298.18 607.26 L298.22 607.48 L298.27 607.7 L298.32 607.92 L298.37 608.13 L298.42 608.35 L298.47 608.56 L298.52 608.77 L298.57 608.97 L298.63 609.18 L298.68 609.38 L298.74 609.59 L298.79 609.79 L298.85 609.99 L298.91 610.18 L298.97 610.38 L299.03 610.57 L299.09 610.77 L299.15 610.96 L299.22 611.14 L299.28 611.33 L299.35 611.52 L299.41 611.7 L299.48 611.89 L299.55 612.07 L299.62 612.25 L299.69 612.42 L299.77 612.6 L299.84 612.78 L299.92 612.95 L299.99 613.12 L300.07 613.29 L300.15 613.46 L300.23 613.63 L300.31 613.8 L300.4 613.96 L300.48 614.13 L300.57 614.29 L300.66 614.45 L300.75 614.61 L300.84 614.77 L300.93 614.93 L301.03 615.08 L301.12 615.24 L301.22 615.39 L301.32 615.54 L301.42 615.69 L301.53 615.84 L301.63 615.99 L301.74 616.13 L301.85 616.28 L301.96 616.42 L302.07 616.57 L302.18 616.71 L302.3 616.85 L302.42 616.99 L302.54 617.13 L302.66 617.26 L302.79 617.4 L302.91 617.54 L303.04 617.67 L303.17 617.8 L303.31 617.93 L303.44 618.06 L303.58 618.19 L303.72 618.32 L303.87 618.45 L304.01 618.57 L304.16 618.7 L304.31 618.82 L304.46 618.95 L304.62 619.07 L304.78 619.19 L304.94 619.31 L305.11 619.43 L305.27 619.54 L305.44 619.66 L305.62 619.78 L305.79 619.89 L305.97 620.01 L306.15 620.12 L306.34 620.23 L306.53 620.34 L306.72 620.45 L306.92 620.56 L307.11 620.67 L307.32 620.78 L307.52 620.88 L307.73 620.99 L307.95 621.09 L308.16 621.2 L308.38 621.3 L308.61 621.4 L308.84 621.5 L309.07 621.6 L309.3 621.7 L309.54 621.8 L309.79 621.9 L310.04 621.99 L310.29 622.09 L310.55 622.19 L310.81 622.28 L311.08 622.37 L311.35 622.47 L311.63 622.56 L311.91 622.65 L312.19 622.74 L312.48 622.83 L312.78 622.92 L313.08 623.01 L313.39 623.1 L313.7 623.18 L314.01 623.27 L314.34 623.35 L314.66 623.44 L315 623.52 L315.34 623.61 L315.68 623.69 L316.04 623.77 L316.39 623.85 L316.76 623.93 L317.13 624.01 L317.5 624.09 L317.89 624.17 L318.28 624.25 L318.67 624.32 L319.08 624.4 L319.49 624.48 L319.91 624.55 L320.33 624.63 L320.76 624.7 L321.2 624.77 L321.65 624.85 L322.11 624.92 L322.57 624.99 L323.04 625.06 L323.52 625.13 L324.01 625.2 L324.51 625.27 L325.01 625.34 L325.53 625.41 L326.05 625.47 L326.58 625.54 L327.12 625.61 L327.67 625.67 L328.23 625.74 L328.8 625.8 L329.38 625.87 L329.97 625.93 L330.58 625.99 L331.19 626.05 L331.81 626.12 L332.44 626.18 L333.08 626.24 L333.74 626.3 L334.4 626.36 L335.08 626.42 L335.77 626.48 L336.47 626.54 L337.19 626.59 L337.91 626.65 L338.65 626.71 L339.4 626.76 L340.17 626.82 L340.95 626.88 L341.74 626.93 L342.54 626.98 L343.36 627.04 L344.2 627.09 L345.05 627.15 L345.91 627.2 L346.79 627.25 L347.68 627.3 L348.59 627.35 L349.51 627.4 L350.45 627.46 L351.41 627.51 L352.39 627.56 L353.38 627.6 L354.38 627.65 L355.41 627.7 L356.45 627.75 L357.52 627.8 L358.6 627.84 L359.69 627.89 L360.81 627.94 L361.95 627.98 L363.11 628.03 L364.29 628.07 L365.48 628.12 L366.7 628.16 L367.94 628.21 L369.21 628.25 L370.49 628.3 L371.8 628.34 L373.12 628.38 L374.48 628.42 L375.85 628.47 L377.25 628.51 L378.68 628.55 L380.13 628.59 L381.6 628.63 L383.1 628.67 L384.63 628.71 L386.18 628.75 L387.76 628.79 L389.36 628.83 L391 628.87 L392.66 628.9 L394.36 628.94 L396.08 628.98 L397.83 629.02 L399.61 629.05 L401.43 629.09 L403.27 629.13 L405.15 629.16 L407.06 629.2 L409 629.23 L410.98 629.27 L412.99 629.3 L415.04 629.34 L417.12 629.37 L419.24 629.41 L421.39 629.44 L423.59 629.47 L425.82 629.51 L428.09 629.54 L430.4 629.57 L432.75 629.6 L435.14 629.64 L437.57 629.67 L440.04 629.7 L442.56 629.73 L445.12 629.76 L447.73 629.79 L450.38 629.82 L453.08 629.85 L455.82 629.88 L458.62 629.91 L461.46 629.94 L464.35 629.97 L467.29 630 L470.28 630.03 L473.33 630.06 L476.43 630.08 L479.58 630.11 L482.78 630.14 L486.05 630.17 L489.37 630.19 L492.74 630.22 L496.18 630.25 L499.67 630.28 L503.23 630.3 L506.85 630.33 L510.53 630.35 L514.28 630.38 L518.09 630.4 L521.96 630.43 L525.91 630.45 L529.92 630.48 L534.01 630.5 L538.16 630.53 L542.39 630.55 L546.69 630.58 L551.06 630.6 L555.52 630.62 L560.05 630.65 L564.65 630.67 L569.34 630.69 L574.11 630.72 L578.97 630.74 L583.9 630.76 L588.93 630.78 L594.04 630.81 L599.24 630.83 L604.53 630.85 L609.91 630.87 L615.39 630.89 L620.96 630.91 L626.63 630.93 L632.4 630.96" fill="none" stroke="#0000FF" stroke-width="2.3" stroke-linejoin="round"/>
<polygon points="295.5,558.42 296.83,561.98 300.64,562.15 297.66,564.52 298.67,568.19 295.5,566.09 292.33,568.19 293.34,564.52 290.36,562.15 294.17,561.98" fill="#FF8000"/>
<polygon points="295.84,589.63 297.17,593.19 300.97,593.36 297.99,595.73 299.01,599.39 295.84,597.29 292.66,599.39 293.68,595.73 290.7,593.36 294.5,593.19" fill="#FF8000"/>
<polygon points="296.85,602.8 298.18,606.37 301.98,606.53 299,608.9 300.02,612.57 296.85,610.47 293.67,612.57 294.69,608.9 291.71,606.53 295.51,606.37" fill="#FF8000"/>
<polygon points="300.22,612.28 301.55,615.85 305.35,616.01 302.37,618.38 303.39,622.05 300.22,619.95 297.04,622.05 298.06,618.38 295.08,616.01 298.88,615.85" fill="#FF8000"/>
<polygon points="325.32,614.13 326.65,617.69 330.45,617.86 327.47,620.23 328.49,623.9 325.32,621.8 322.14,623.9 323.16,620.23 320.18,617.86 323.98,617.69" fill="#FF8000"/>
<polygon points="396.57,621.99 397.9,625.55 401.71,625.72 398.73,628.09 399.74,631.76 396.57,629.66 393.4,631.76 394.41,628.09 391.43,625.72 395.24,625.55" fill="#FF8000"/>
<line x1="261.6" y1="356" x2="666.55" y2="356" stroke="#8a8a8a" stroke-width="1.1" />
<line x1="666.55" y1="356" x2="666.55" y2="638.95" stroke="#333" stroke-width="1.2" />
<line x1="261.6" y1="355.5" x2="261.6" y2="638.95" stroke="#000" stroke-width="1.25" />
<line x1="261.1" y1="638.35" x2="667.05" y2="638.35" stroke="#222" stroke-width="1.3" />
<line x1="295.5" y1="638.35" x2="295.5" y2="633.35" stroke="#111" stroke-width="1.1" />
<text x="295.5" y="655.7" font-size="14.4" text-anchor="middle" fill="#000" >0</text>
<line x1="329.19" y1="638.35" x2="329.19" y2="635.35" stroke="#111" stroke-width="1.1" />
<line x1="362.88" y1="638.35" x2="362.88" y2="633.35" stroke="#111" stroke-width="1.1" />
<text x="362.88" y="655.7" font-size="14.4" text-anchor="middle" fill="#000" >20</text>
<line x1="396.57" y1="638.35" x2="396.57" y2="635.35" stroke="#111" stroke-width="1.1" />
<line x1="430.26" y1="638.35" x2="430.26" y2="633.35" stroke="#111" stroke-width="1.1" />
<text x="430.26" y="655.7" font-size="14.4" text-anchor="middle" fill="#000" >40</text>
<line x1="463.95" y1="638.35" x2="463.95" y2="635.35" stroke="#111" stroke-width="1.1" />
<line x1="497.64" y1="638.35" x2="497.64" y2="633.35" stroke="#111" stroke-width="1.1" />
<text x="497.64" y="655.7" font-size="14.4" text-anchor="middle" fill="#000" >60</text>
<line x1="531.33" y1="638.35" x2="531.33" y2="635.35" stroke="#111" stroke-width="1.1" />
<line x1="565.02" y1="638.35" x2="565.02" y2="633.35" stroke="#111" stroke-width="1.1" />
<text x="565.02" y="655.7" font-size="14.4" text-anchor="middle" fill="#000" >80</text>
<line x1="598.71" y1="638.35" x2="598.71" y2="635.35" stroke="#111" stroke-width="1.1" />
<text x="632.4" y="655.7" font-size="14.4" text-anchor="middle" fill="#000" >100</text>
<line x1="261.6" y1="633.4" x2="266.8" y2="633.4" stroke="#111" stroke-width="1.1" />
<text x="255" y="637.2" font-size="14.4" text-anchor="end" fill="#000" >0</text>
<line x1="261.6" y1="610.28" x2="264.6" y2="610.28" stroke="#111" stroke-width="1.1" />
<line x1="261.6" y1="587.17" x2="266.8" y2="587.17" stroke="#111" stroke-width="1.1" />
<text x="255" y="590.97" font-size="14.4" text-anchor="end" fill="#000" >2</text>
<line x1="261.6" y1="564.05" x2="264.6" y2="564.05" stroke="#111" stroke-width="1.1" />
<line x1="261.6" y1="540.93" x2="266.8" y2="540.93" stroke="#111" stroke-width="1.1" />
<text x="255" y="544.73" font-size="14.4" text-anchor="end" fill="#000" >4</text>
<line x1="261.6" y1="517.81" x2="264.6" y2="517.81" stroke="#111" stroke-width="1.1" />
<line x1="261.6" y1="494.7" x2="266.8" y2="494.7" stroke="#111" stroke-width="1.1" />
<text x="255" y="498.5" font-size="14.4" text-anchor="end" fill="#000" >6</text>
<line x1="261.6" y1="471.58" x2="264.6" y2="471.58" stroke="#111" stroke-width="1.1" />
<line x1="261.6" y1="448.46" x2="266.8" y2="448.46" stroke="#111" stroke-width="1.1" />
<text x="255" y="452.26" font-size="14.4" text-anchor="end" fill="#000" >8</text>
<line x1="261.6" y1="425.35" x2="264.6" y2="425.35" stroke="#111" stroke-width="1.1" />
<line x1="261.6" y1="402.23" x2="266.8" y2="402.23" stroke="#111" stroke-width="1.1" />
<text x="255" y="406.03" font-size="14.4" text-anchor="end" fill="#000" >10</text>
<line x1="261.6" y1="379.11" x2="264.6" y2="379.11" stroke="#111" stroke-width="1.1" />
<line x1="261.6" y1="356" x2="266.8" y2="356" stroke="#111" stroke-width="1.1" />
<text x="255" y="359.8" font-size="14.4" text-anchor="end" fill="#000" >12</text>
<path d="M364.75 374.75h6v6h-6z" fill="#000"/>
<text x="387" y="381.6" font-size="14.5" text-anchor="start" fill="#000" >Calc data</text>
<line x1="350.75" y1="395" x2="384.5" y2="395" stroke="#0000FF" stroke-width="2" />
<text x="387" y="398.8" font-size="14.5" text-anchor="start" fill="#000" >Fit curve by present method</text>
<line x1="350.75" y1="413" x2="384.5" y2="413" stroke="#FF0000" stroke-width="2" stroke-dasharray="12.5 4.5 2.5 4.5"/>
<text x="387" y="416.8" font-size="14.5" text-anchor="start" fill="#000" >Fit curve by traditional method</text>
<polygon points="367.75,425.85 369.08,429.42 372.89,429.58 369.91,431.95 370.92,435.62 367.75,433.52 364.58,435.62 365.59,431.95 362.61,429.58 366.42,429.42" fill="#FF8000"/>
<text x="387" y="435.2" font-size="14.5" text-anchor="start" fill="#000" >Exp data</text>
<text fill="#0000FF"><tspan x="352.6" y="465.6" font-size="15.5" font-style="italic">d</tspan><tspan x="361.7" y="469.6" font-size="9" font-style="italic">MnS</tspan><tspan x="385" y="465.6" font-size="15.5">=</tspan><tspan x="396.2" y="465.6" font-size="15.5">1.01</tspan><tspan x="424.6" y="465.6" font-size="15.5">·</tspan><tspan x="430.7" y="465.6" font-size="15.5" font-style="italic">C</tspan><tspan x="441" y="469.6" font-size="9" font-style="italic">R</tspan><tspan x="447.4" y="459" font-size="9">−0.49</tspan></text>
<text fill="#0000FF"><tspan x="352.6" y="491.5" font-size="15.5" font-style="italic">R</tspan><tspan x="364.5" y="485" font-size="9">2</tspan><tspan x="373.5" y="491.5" font-size="15.5">=</tspan><tspan x="386" y="491.5" font-size="15.5">1</tspan></text>
<text fill="#FF0000"><tspan x="352.6" y="519.6" font-size="15.5" font-style="italic">d</tspan><tspan x="362.5" y="523.6" font-size="9.8" font-style="italic">MnS</tspan><tspan x="386.6" y="519.6" font-size="16.5">=</tspan><tspan x="399.3" y="519.6" font-size="16.5">3.66</tspan><tspan x="430.8" y="519.6" font-size="16.5">·</tspan><tspan x="438.5" y="519.6" font-size="16.5" font-style="italic">C</tspan><tspan x="449.3" y="523.6" font-size="9.8" font-style="italic">R</tspan><tspan x="456.9" y="513" font-size="9.8">−0.45</tspan></text>
<text fill="#FF0000"><tspan x="352.6" y="547.9" font-size="16" font-style="italic">R</tspan><tspan x="365.3" y="541.4" font-size="9">2</tspan><tspan x="375.7" y="547.9" font-size="16">=</tspan><tspan x="389" y="547.9" font-size="16.5">0.99</tspan></text>
<text x="232.5" y="496.2" font-size="20" text-anchor="middle" fill="#000" transform="rotate(-90 232.5 496.2)" >Radius of MnS, µm</text>
<text x="464" y="685.2" font-size="20.6" text-anchor="middle" fill="#000" >Cooling rate, °C/s</text>
<text x="645.5" y="377.5" font-size="17" text-anchor="middle" fill="#000" >(c)</text>
</g>
</svg>
</body></html>
